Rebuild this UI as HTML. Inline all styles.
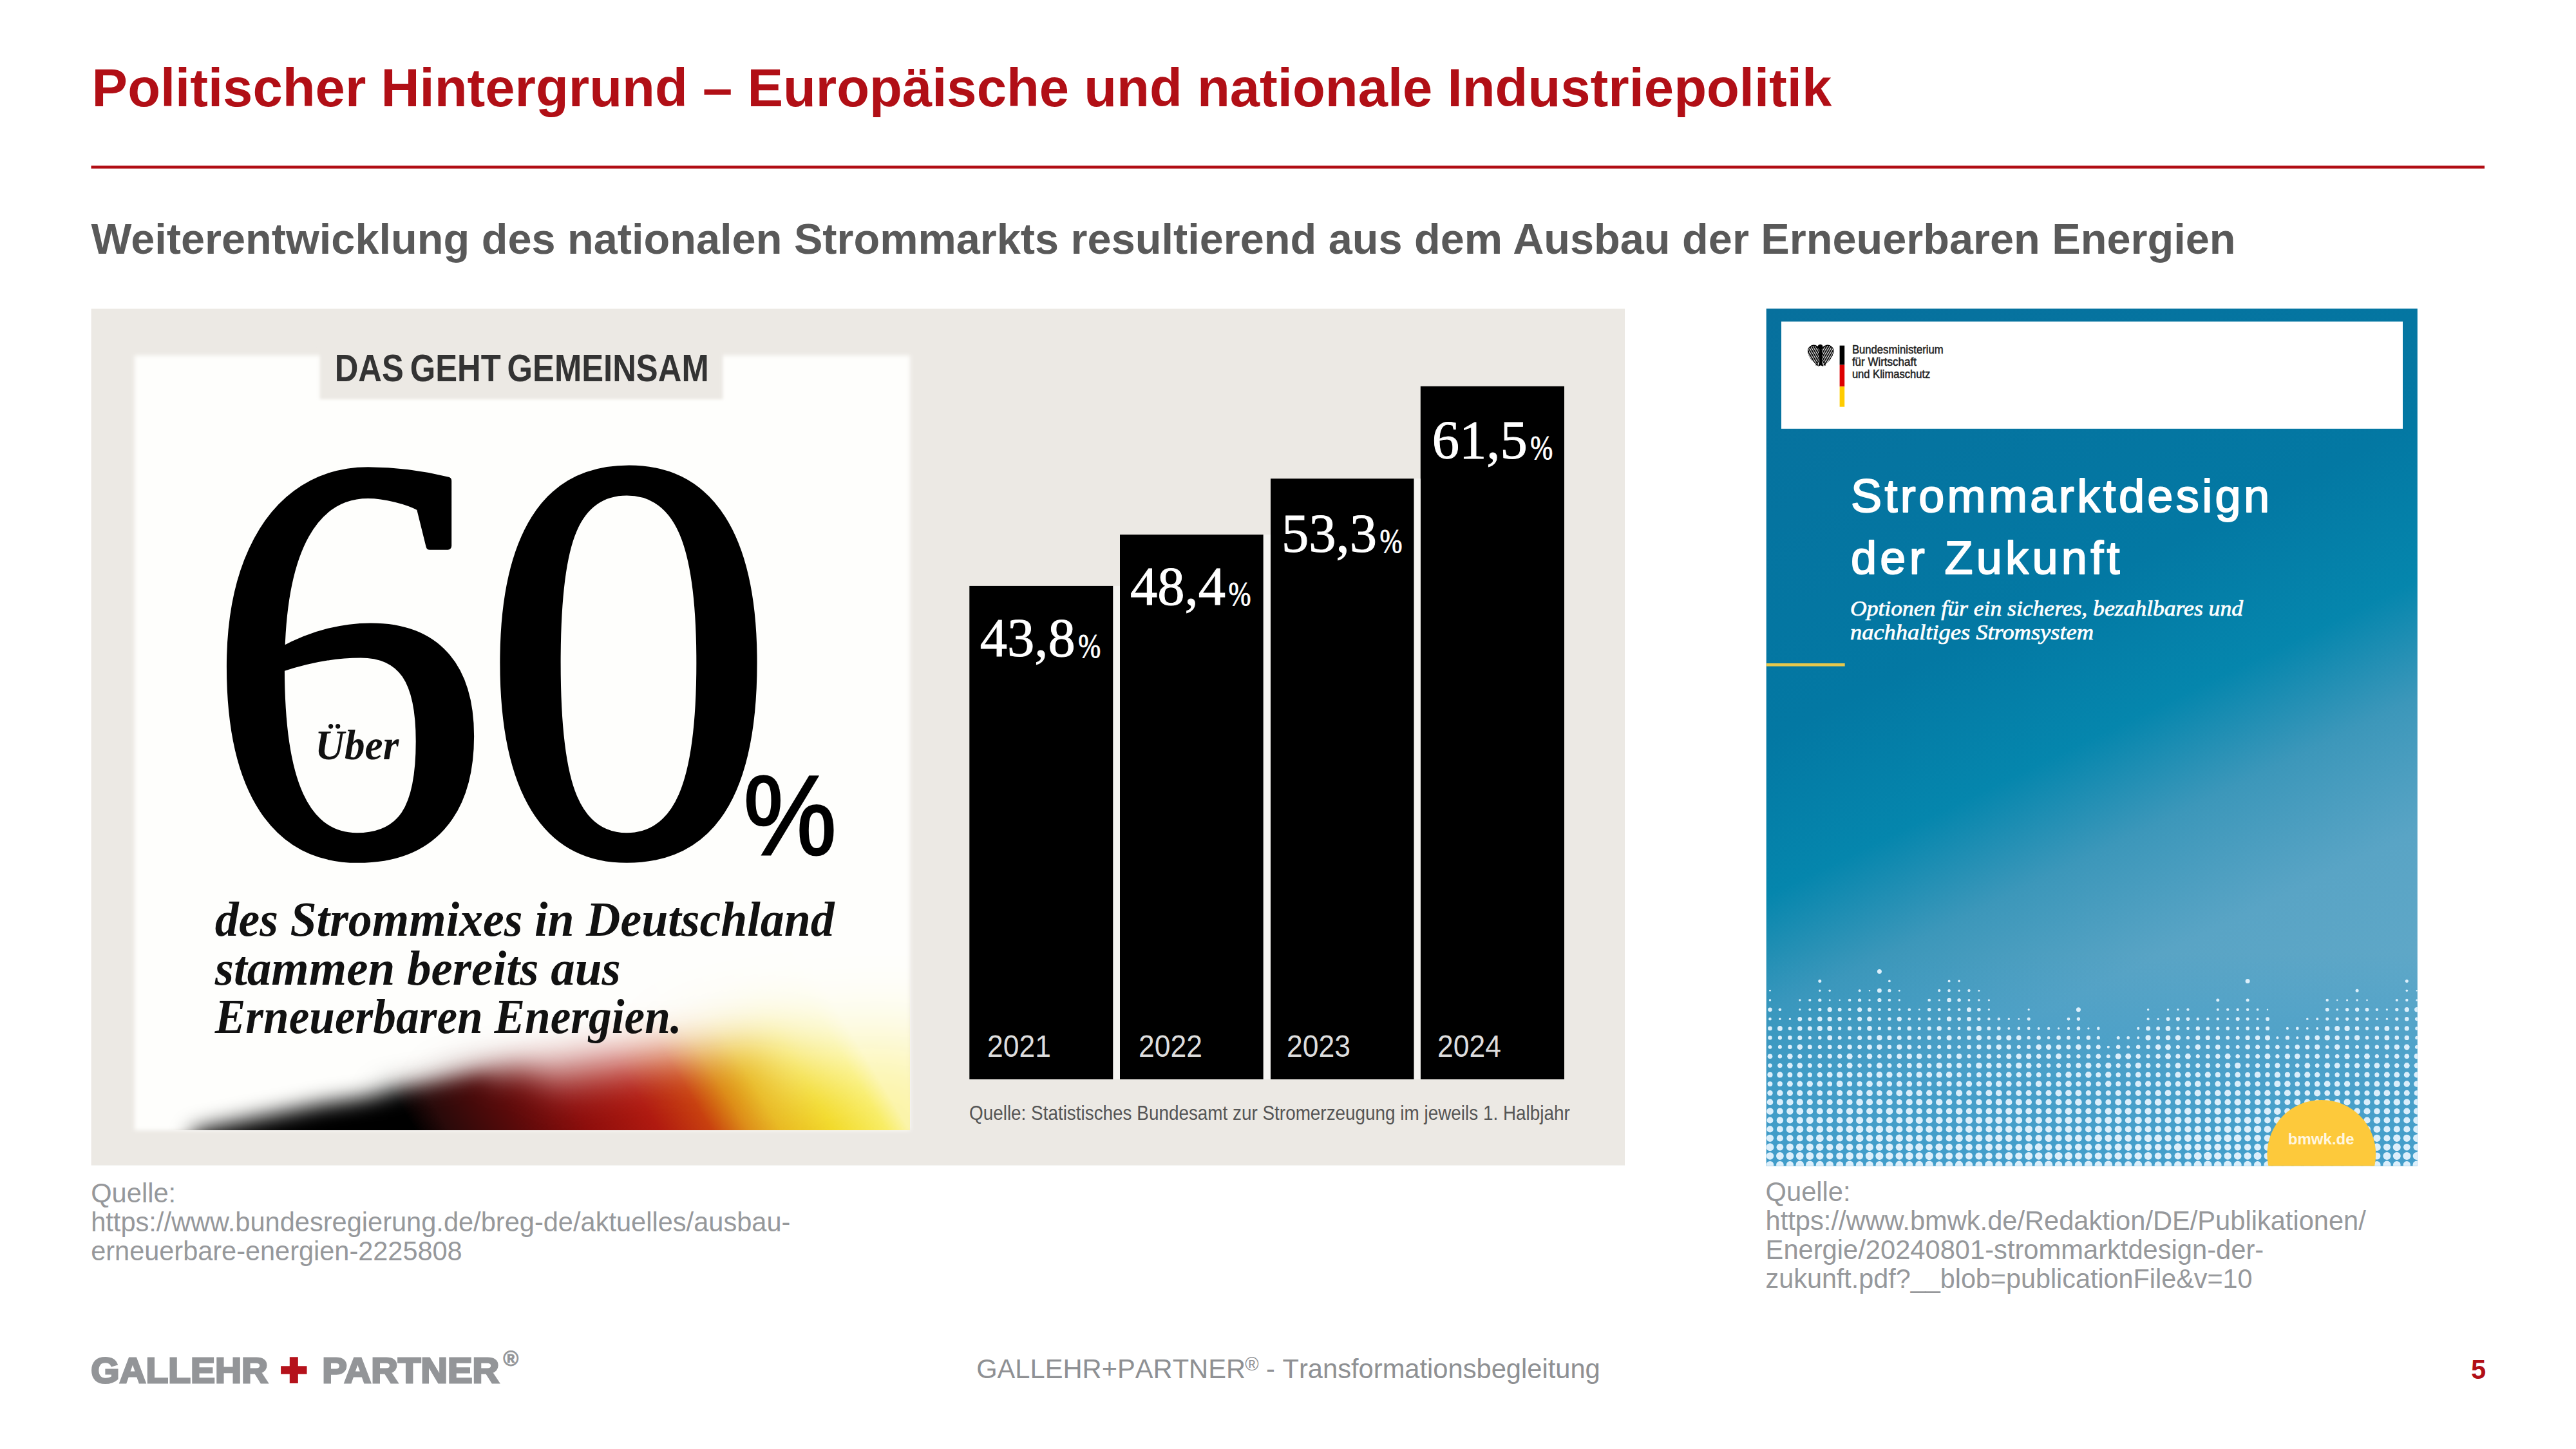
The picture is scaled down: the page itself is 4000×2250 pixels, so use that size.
<!DOCTYPE html>
<html lang="de"><head><meta charset="utf-8"><title>Politischer Hintergrund – Europäische und nationale Industriepolitik</title>
<style>
html,body{margin:0;padding:0;background:#fff;}
body{width:4000px;height:2250px;overflow:hidden;}
svg{display:block;}
text{white-space:pre;}
</style></head><body>
<svg width="4000" height="2250" viewBox="0 0 4000 2250">
<defs>
<filter id="b2" x="-5%" y="-5%" width="110%" height="110%"><feGaussianBlur stdDeviation="2"/></filter>
<filter id="b3" x="-5%" y="-5%" width="110%" height="110%"><feGaussianBlur stdDeviation="3"/></filter>
<filter id="b22" x="-30%" y="-80%" width="160%" height="260%"><feGaussianBlur stdDeviation="16"/></filter>
<filter id="b25" x="-30%" y="-80%" width="160%" height="260%"><feGaussianBlur stdDeviation="26"/></filter>
<filter id="b38" x="-30%" y="-80%" width="160%" height="260%"><feGaussianBlur stdDeviation="36"/></filter>
<filter id="b60" x="-50%" y="-120%" width="200%" height="340%"><feGaussianBlur stdDeviation="65"/></filter>
<filter id="b05" x="-10%" y="-10%" width="120%" height="120%"><feGaussianBlur stdDeviation="0.5"/></filter>
<clipPath id="cpPanel"><rect x="209" y="552" width="1204" height="1203"/></clipPath>
<clipPath id="cpCover"><rect x="2742.7" y="479.3" width="1011.1" height="1331.2"/></clipPath>
<linearGradient id="gFlag" gradientUnits="userSpaceOnUse" x1="300" y1="1755" x2="1118.4" y2="1264">
<stop offset="0" stop-color="#000"/><stop offset="0.31" stop-color="#000"/><stop offset="0.357" stop-color="#2A0A0A"/><stop offset="0.455" stop-color="#5A0A0A"/><stop offset="0.553" stop-color="#8E0E0C"/><stop offset="0.65" stop-color="#B01A10"/><stop offset="0.723" stop-color="#C8400F"/><stop offset="0.773" stop-color="#DC8A14"/><stop offset="0.821" stop-color="#E8B81C"/><stop offset="0.895" stop-color="#F2DA28"/><stop offset="0.968" stop-color="#F8EC60"/><stop offset="1" stop-color="#FBF3A0"/>
</linearGradient>
<mask id="mFlag" maskUnits="userSpaceOnUse" x="100" y="1300" width="1500" height="700"><g fill="#fff">
<path d="M270,1950 L300,1756 L500,1714 L760,1676 L800,1950 Z" filter="url(#b22)"/>
<path d="M600,1950 L600,1702 L820,1668 L1000,1950 Z" filter="url(#b25)"/>
<path d="M700,1950 L700,1690 L1024,1640 L1200,1636 L1200,1950 Z" filter="url(#b38)"/>
<path d="M1090,1950 L1090,1660 L1250,1630 L1500,1625 L1500,1950 Z" filter="url(#b60)"/>
</g></mask>
<linearGradient id="gCover" gradientUnits="userSpaceOnUse" x1="2742" y1="480" x2="3457" y2="1956">
<stop offset="0" stop-color="#07709D"/><stop offset="0.366" stop-color="#0378A3"/><stop offset="0.5" stop-color="#0586AD"/><stop offset="0.6" stop-color="#3C97BA"/><stop offset="0.713" stop-color="#59A4C5"/><stop offset="0.854" stop-color="#60A8C8"/>
</linearGradient>
<linearGradient id="gBot" x1="0" y1="0" x2="0" y2="1"><stop offset="0" stop-color="#2F97CC" stop-opacity="0"/><stop offset="0.6" stop-color="#2F97CC" stop-opacity="0.45"/><stop offset="1" stop-color="#2F97CC" stop-opacity="0.6"/></linearGradient>
</defs>
<rect width="4000" height="2250" fill="#fff"/>
<text x="142.6" y="165.4" font-size="83.33" fill="#B10F16" font-family="'Liberation Sans', Arial, Helvetica, sans-serif" font-weight="bold" textLength="2701.7" lengthAdjust="spacingAndGlyphs" >Politischer Hintergrund – Europäische und nationale Industriepolitik</text>
<rect x="141.5" y="257.3" width="3716.5" height="4.4" fill="#B10D14"/>
<text x="141.5" y="394.1" font-size="66.67" fill="#595959" font-family="'Liberation Sans', Arial, Helvetica, sans-serif" font-weight="bold" >Weiterentwicklung des nationalen Strommarkts resultierend aus dem Ausbau der Erneuerbaren Energien</text>
<g><rect x="141.6" y="479.5" width="2381.4" height="1330.1" fill="#ECE9E4"/>
<rect x="209" y="552" width="1204" height="1203" fill="#FEFEFC" filter="url(#b3)"/>
<rect x="209" y="1380" width="1204" height="375" fill="url(#gFlag)" mask="url(#mFlag)"/>
<rect x="496.5" y="540" width="626" height="80" fill="#ECE9E4" filter="url(#b2)"/>
<text x="519.7" y="592.3" font-size="59" fill="#333333" font-family="'Liberation Sans', Arial, Helvetica, sans-serif" font-weight="bold" textLength="581" lengthAdjust="spacingAndGlyphs" word-spacing="-5">DAS GEHT GEMEINSAM</text>
<g font-size="897" fill="#000" stroke="#000" stroke-width="12" stroke-linejoin="round" font-family="'Liberation Serif', 'Times New Roman', serif"><text x="0" y="0" transform="translate(320.3,1325.1) scale(0.972,1)">6</text><text x="0" y="0" transform="translate(747.7,1325.1) scale(1.018,1)">0</text></g>
<text x="489.3" y="1178.9" font-size="66" fill="#111" font-family="'Liberation Serif', 'Times New Roman', serif" font-weight="bold" font-style="italic" textLength="130" lengthAdjust="spacingAndGlyphs" >Über</text>
<text x="1154.4" y="1327.3" font-size="176" fill="#000" font-family="'Liberation Sans', Arial, Helvetica, sans-serif" textLength="144.5" lengthAdjust="spacingAndGlyphs" stroke="#000" stroke-width="3">%</text>
<text x="333.7" y="1453" font-size="76" fill="#111" font-family="'Liberation Serif', 'Times New Roman', serif" font-weight="bold" font-style="italic" textLength="962" lengthAdjust="spacingAndGlyphs" >des Strommixes in Deutschland</text>
<text x="333.7" y="1529.3" font-size="76" fill="#111" font-family="'Liberation Serif', 'Times New Roman', serif" font-weight="bold" font-style="italic" textLength="630" lengthAdjust="spacingAndGlyphs" >stammen bereits aus</text>
<text x="333.7" y="1604.3" font-size="76" fill="#111" font-family="'Liberation Serif', 'Times New Roman', serif" font-weight="bold" font-style="italic" textLength="725" lengthAdjust="spacingAndGlyphs" >Erneuerbaren Energien.</text>
<rect x="1505.3" y="909.9" width="223.2" height="766.1" fill="#000"/>
<rect x="1739" y="830.2" width="222.8" height="845.8" fill="#000"/>
<rect x="1973" y="743.2" width="222.7" height="932.8" fill="#000"/>
<rect x="2205.8" y="599.8" width="223.2" height="1076.2" fill="#000"/>
<rect x="1728.5" y="909.9" width="10.5" height="766.1" fill="#F5F4F1"/>
<rect x="1961.8" y="830.2" width="11.2" height="845.8" fill="#F5F4F1"/>
<rect x="2195.7" y="743.2" width="10.1" height="932.8" fill="#F5F4F1"/>
<text x="1521.7" y="1019.3" font-size="85" fill="#fff" font-family="'Liberation Serif', 'Times New Roman', serif" textLength="148" lengthAdjust="spacingAndGlyphs" stroke="#fff" stroke-width="1">43,8</text>
<text x="1674.2" y="1020.5" font-size="52" fill="#fff" font-family="'Liberation Serif', 'Times New Roman', serif" textLength="35" lengthAdjust="spacingAndGlyphs" stroke="#fff" stroke-width="0.8">%</text>
<text x="1755" y="939.2" font-size="85" fill="#fff" font-family="'Liberation Serif', 'Times New Roman', serif" textLength="148" lengthAdjust="spacingAndGlyphs" stroke="#fff" stroke-width="1">48,4</text>
<text x="1907.5" y="940.4" font-size="52" fill="#fff" font-family="'Liberation Serif', 'Times New Roman', serif" textLength="35" lengthAdjust="spacingAndGlyphs" stroke="#fff" stroke-width="0.8">%</text>
<text x="1990" y="857.1" font-size="85" fill="#fff" font-family="'Liberation Serif', 'Times New Roman', serif" textLength="148" lengthAdjust="spacingAndGlyphs" stroke="#fff" stroke-width="1">53,3</text>
<text x="2142.5" y="858.3" font-size="52" fill="#fff" font-family="'Liberation Serif', 'Times New Roman', serif" textLength="35" lengthAdjust="spacingAndGlyphs" stroke="#fff" stroke-width="0.8">%</text>
<text x="2223.7" y="712.1" font-size="85" fill="#fff" font-family="'Liberation Serif', 'Times New Roman', serif" textLength="148" lengthAdjust="spacingAndGlyphs" stroke="#fff" stroke-width="1">61,5</text>
<text x="2376.2" y="713.3" font-size="52" fill="#fff" font-family="'Liberation Serif', 'Times New Roman', serif" textLength="35" lengthAdjust="spacingAndGlyphs" stroke="#fff" stroke-width="0.8">%</text>
<text x="1532.9" y="1641" font-size="47.5" fill="#DDDDDD" font-family="'Liberation Sans', Arial, Helvetica, sans-serif" textLength="99" lengthAdjust="spacingAndGlyphs" >2021</text>
<text x="1768" y="1641" font-size="47.5" fill="#DDDDDD" font-family="'Liberation Sans', Arial, Helvetica, sans-serif" textLength="99" lengthAdjust="spacingAndGlyphs" >2022</text>
<text x="1998" y="1641" font-size="47.5" fill="#DDDDDD" font-family="'Liberation Sans', Arial, Helvetica, sans-serif" textLength="99" lengthAdjust="spacingAndGlyphs" >2023</text>
<text x="2231.9" y="1641" font-size="47.5" fill="#DDDDDD" font-family="'Liberation Sans', Arial, Helvetica, sans-serif" textLength="99" lengthAdjust="spacingAndGlyphs" >2024</text>
<text x="1505" y="1738.6" font-size="30.5" fill="#555" font-family="'Liberation Sans', Arial, Helvetica, sans-serif" textLength="932.7" lengthAdjust="spacingAndGlyphs" >Quelle: Statistisches Bundesamt zur Stromerzeugung im jeweils 1. Halbjahr</text></g>
<g><rect x="2742.7" y="479.3" width="1011.1" height="1331.2" fill="url(#gCover)"/>
<rect x="2766" y="499.4" width="965" height="166.4" fill="#fff"/>
<g transform="translate(2807.7,534.6)"><defs><clipPath id="wl"><polygon points="17.3,7.0 15.0,3.0 10.5,0.8 5.5,1.6 1.5,5.5 -0.1,11.5 0.9,17.5 4.0,23.0 8.0,27.5 12.0,31.0 15.5,28.0 17.1,20.0"/></clipPath><clipPath id="wr"><polygon points="21.7,7.0 24.0,3.0 28.5,0.8 33.5,1.6 37.5,5.5 39.1,11.5 38.1,17.5 35.0,23.0 31.0,27.5 27.0,31.0 23.5,28.0 21.9,20.0"/></clipPath></defs><g fill="none" stroke="#000" stroke-linecap="round" stroke-linejoin="round" filter="url(#b05)"><g clip-path="url(#wl)"><path d="M55.5,2.8 L30.3,57.2 M53.2,1.7 L28.0,56.1 M50.9,0.6 L25.7,55.1 M48.5,-0.4 L23.3,54.0 M46.2,-1.5 L21.0,52.9 M43.9,-2.6 L18.7,51.8 M41.6,-3.6 L16.4,50.8 M39.3,-4.7 L14.1,49.7 M37.0,-5.8 L11.8,48.6 M34.7,-6.9 L9.5,47.6 M32.4,-7.9 L7.2,46.5 M30.0,-9.0 L4.8,45.4 M27.7,-10.1 L2.5,44.4 M25.4,-11.1 L0.2,43.3 M23.1,-12.2 L-2.1,42.2 M20.8,-13.3 L-4.4,41.1 M18.5,-14.4 L-6.7,40.1 M16.2,-15.4 L-9.0,39.0 M13.8,-16.5 L-11.4,37.9 M11.5,-17.6 L-13.7,36.9 M9.2,-18.6 L-16.0,35.8 M6.9,-19.7 L-18.3,34.7 M4.6,-20.8 L-20.6,33.6 M2.3,-21.8 L-22.9,32.6 M-0.0,-22.9 L-25.2,31.5 M-2.3,-24.0 L-27.5,30.4 M-4.7,-25.1 L-29.9,29.4 M-7.0,-26.1 L-32.2,28.3 M-9.3,-27.2 L-34.5,27.2 " stroke-width="1.6"/></g><path d="M17.3,7 C14.5,2.4 8.5,-0.4 3.5,3.4 S-0.3,10 0.5,14.5" stroke-width="1.2"/><path d="M17.3,24 L14.1,29.8 M14.1,29.8 l-1.8,2.4 M14.1,29.8 l0.3,3" stroke-width="1.5"/><g clip-path="url(#wr)"><path d="M-16.5,2.8 L8.7,57.2 M-14.2,1.7 L11.0,56.1 M-11.9,0.6 L13.3,55.1 M-9.5,-0.4 L15.7,54.0 M-7.2,-1.5 L18.0,52.9 M-4.9,-2.6 L20.3,51.8 M-2.6,-3.6 L22.6,50.8 M-0.3,-4.7 L24.9,49.7 M2.0,-5.8 L27.2,48.6 M4.3,-6.9 L29.5,47.6 M6.6,-7.9 L31.8,46.5 M9.0,-9.0 L34.2,45.4 M11.3,-10.1 L36.5,44.4 M13.6,-11.1 L38.8,43.3 M15.9,-12.2 L41.1,42.2 M18.2,-13.3 L43.4,41.1 M20.5,-14.4 L45.7,40.1 M22.8,-15.4 L48.0,39.0 M25.2,-16.5 L50.4,37.9 M27.5,-17.6 L52.7,36.9 M29.8,-18.6 L55.0,35.8 M32.1,-19.7 L57.3,34.7 M34.4,-20.8 L59.6,33.6 M36.7,-21.8 L61.9,32.6 M39.0,-22.9 L64.2,31.5 M41.3,-24.0 L66.5,30.4 M43.7,-25.1 L68.9,29.4 M46.0,-26.1 L71.2,28.3 M48.3,-27.2 L73.5,27.2 " stroke-width="1.6"/></g><path d="M21.7,7 C24.5,2.4 30.5,-0.4 35.5,3.4 S39.3,10 38.5,14.5" stroke-width="1.2"/><path d="M21.7,24 L24.9,29.8 M24.9,29.8 l1.8,2.4 M24.9,29.8 l-0.3,3" stroke-width="1.5"/><path d="M19.5,5 C22.9,9 22.7,20 21.2,25.5 L23.6,34.4 L19.5,32.6 L15.4,34.4 L17.8,25.5 C16.3,20 16.1,9 19.5,5 Z" fill="#000" stroke="none"/><path d="M21.6,1.2 C18.8,-1 15.2,0.6 14.6,3.8 L12.2,5.6 L15.4,6.1 C16.4,8.2 18.6,8.8 20.8,7.8 C23.2,6.4 23.5,3 21.6,1.2 Z" fill="#000" stroke="none"/></g></g>
<rect x="2856.6" y="536.6" width="7.6" height="30" fill="#000"/>
<rect x="2856.6" y="566.6" width="7.6" height="33.7" fill="#D00"/>
<rect x="2856.6" y="600.3" width="7.6" height="31.4" fill="#FC0"/>
<text x="2875.9" y="548.8" font-size="18" fill="#222" font-family="'Liberation Sans', Arial, Helvetica, sans-serif" textLength="141.7" lengthAdjust="spacingAndGlyphs" stroke="#222" stroke-width="0.5">Bundesministerium</text>
<text x="2875.9" y="568.1" font-size="18" fill="#222" font-family="'Liberation Sans', Arial, Helvetica, sans-serif" textLength="100" lengthAdjust="spacingAndGlyphs" stroke="#222" stroke-width="0.5">für Wirtschaft</text>
<text x="2875.9" y="587.1" font-size="18" fill="#222" font-family="'Liberation Sans', Arial, Helvetica, sans-serif" textLength="121.5" lengthAdjust="spacingAndGlyphs" stroke="#222" stroke-width="0.5">und Klimaschutz</text>
<text x="2874" y="794.8" font-size="72" fill="#fff" font-family="'Liberation Sans', Arial, Helvetica, sans-serif" textLength="650" lengthAdjust="spacing" stroke="#fff" stroke-width="2" stroke-linejoin="round">Strommarktdesign</text>
<text x="2874" y="890.6" font-size="72" fill="#fff" font-family="'Liberation Sans', Arial, Helvetica, sans-serif" textLength="417.5" lengthAdjust="spacing" stroke="#fff" stroke-width="2" stroke-linejoin="round">der Zukunft</text>
<text x="2873" y="956.1" font-size="33" fill="#fff" font-family="'Liberation Serif', 'Times New Roman', serif" font-style="italic" textLength="610" lengthAdjust="spacingAndGlyphs" stroke="#fff" stroke-width="0.7">Optionen für ein sicheres, bezahlbares und</text>
<text x="2873" y="993.4" font-size="33" fill="#fff" font-family="'Liberation Serif', 'Times New Roman', serif" font-style="italic" textLength="378" lengthAdjust="spacingAndGlyphs" stroke="#fff" stroke-width="0.7">nachhaltiges Stromsystem</text>
<rect x="2742.7" y="1030" width="122" height="4.6" fill="#E6C84C"/>
<rect x="2742.7" y="1480" width="1011.1" height="330.5" fill="url(#gBot)"/>
<g clip-path="url(#cpCover)" fill="#DCEFFB"><circle cx="2748.5" cy="1538.2" r="1.4"/><circle cx="2748.5" cy="1553.0" r="1.7"/><circle cx="2748.5" cy="1567.7" r="3.2"/><circle cx="2748.5" cy="1582.3" r="2.3"/><circle cx="2748.5" cy="1596.9" r="3.3"/><circle cx="2748.5" cy="1611.4" r="3.2"/><circle cx="2748.5" cy="1625.8" r="2.9"/><circle cx="2748.5" cy="1640.2" r="3.8"/><circle cx="2748.5" cy="1654.6" r="3.3"/><circle cx="2748.5" cy="1668.9" r="4.1"/><circle cx="2748.5" cy="1683.1" r="3.9"/><circle cx="2748.5" cy="1697.3" r="4.2"/><circle cx="2748.5" cy="1711.4" r="4.8"/><circle cx="2748.5" cy="1725.5" r="5.3"/><circle cx="2748.5" cy="1739.5" r="4.9"/><circle cx="2748.5" cy="1753.4" r="5.1"/><circle cx="2748.5" cy="1767.3" r="5.6"/><circle cx="2748.5" cy="1781.2" r="6.0"/><circle cx="2748.5" cy="1795.0" r="5.8"/><circle cx="2748.5" cy="1808.7" r="5.8"/><circle cx="2763.9" cy="1567.7" r="2.3"/><circle cx="2763.9" cy="1582.3" r="1.8"/><circle cx="2763.9" cy="1596.9" r="3.9"/><circle cx="2763.9" cy="1611.4" r="3.1"/><circle cx="2763.9" cy="1625.8" r="3.0"/><circle cx="2763.9" cy="1640.2" r="3.2"/><circle cx="2763.9" cy="1654.6" r="3.7"/><circle cx="2763.9" cy="1668.9" r="4.6"/><circle cx="2763.9" cy="1683.1" r="4.0"/><circle cx="2763.9" cy="1697.3" r="4.7"/><circle cx="2763.9" cy="1711.4" r="5.0"/><circle cx="2763.9" cy="1725.5" r="4.9"/><circle cx="2763.9" cy="1739.5" r="5.2"/><circle cx="2763.9" cy="1753.4" r="5.0"/><circle cx="2763.9" cy="1767.3" r="5.1"/><circle cx="2763.9" cy="1781.2" r="5.4"/><circle cx="2763.9" cy="1795.0" r="5.9"/><circle cx="2763.9" cy="1808.7" r="5.8"/><circle cx="2779.4" cy="1582.3" r="1.7"/><circle cx="2779.4" cy="1596.9" r="2.7"/><circle cx="2779.4" cy="1611.4" r="3.3"/><circle cx="2779.4" cy="1625.8" r="3.3"/><circle cx="2779.4" cy="1640.2" r="4.2"/><circle cx="2779.4" cy="1654.6" r="4.3"/><circle cx="2779.4" cy="1668.9" r="3.9"/><circle cx="2779.4" cy="1683.1" r="4.5"/><circle cx="2779.4" cy="1697.3" r="4.6"/><circle cx="2779.4" cy="1711.4" r="5.2"/><circle cx="2779.4" cy="1725.5" r="5.2"/><circle cx="2779.4" cy="1739.5" r="5.0"/><circle cx="2779.4" cy="1753.4" r="5.7"/><circle cx="2779.4" cy="1767.3" r="5.2"/><circle cx="2779.4" cy="1781.2" r="5.6"/><circle cx="2779.4" cy="1795.0" r="6.0"/><circle cx="2779.4" cy="1808.7" r="5.6"/><circle cx="2794.8" cy="1553.0" r="1.7"/><circle cx="2794.8" cy="1567.7" r="1.6"/><circle cx="2794.8" cy="1582.3" r="3.4"/><circle cx="2794.8" cy="1596.9" r="3.7"/><circle cx="2794.8" cy="1611.4" r="3.5"/><circle cx="2794.8" cy="1625.8" r="4.2"/><circle cx="2794.8" cy="1640.2" r="3.5"/><circle cx="2794.8" cy="1654.6" r="4.3"/><circle cx="2794.8" cy="1668.9" r="4.3"/><circle cx="2794.8" cy="1683.1" r="4.5"/><circle cx="2794.8" cy="1697.3" r="4.6"/><circle cx="2794.8" cy="1711.4" r="5.1"/><circle cx="2794.8" cy="1725.5" r="5.4"/><circle cx="2794.8" cy="1739.5" r="5.2"/><circle cx="2794.8" cy="1753.4" r="5.5"/><circle cx="2794.8" cy="1767.3" r="5.1"/><circle cx="2794.8" cy="1781.2" r="5.8"/><circle cx="2794.8" cy="1795.0" r="5.9"/><circle cx="2794.8" cy="1808.7" r="6.3"/><circle cx="2810.3" cy="1553.0" r="2.1"/><circle cx="2810.3" cy="1567.7" r="2.0"/><circle cx="2810.3" cy="1582.3" r="2.9"/><circle cx="2810.3" cy="1596.9" r="3.5"/><circle cx="2810.3" cy="1611.4" r="2.6"/><circle cx="2810.3" cy="1625.8" r="3.5"/><circle cx="2810.3" cy="1640.2" r="3.3"/><circle cx="2810.3" cy="1654.6" r="3.5"/><circle cx="2810.3" cy="1668.9" r="3.6"/><circle cx="2810.3" cy="1683.1" r="4.7"/><circle cx="2810.3" cy="1697.3" r="4.2"/><circle cx="2810.3" cy="1711.4" r="4.6"/><circle cx="2810.3" cy="1725.5" r="5.0"/><circle cx="2810.3" cy="1739.5" r="5.5"/><circle cx="2810.3" cy="1753.4" r="5.0"/><circle cx="2810.3" cy="1767.3" r="5.4"/><circle cx="2810.3" cy="1781.2" r="5.7"/><circle cx="2810.3" cy="1795.0" r="6.1"/><circle cx="2810.3" cy="1808.7" r="6.2"/><circle cx="2825.8" cy="1523.4" r="2.5"/><circle cx="2825.8" cy="1538.2" r="1.7"/><circle cx="2825.8" cy="1553.0" r="2.6"/><circle cx="2825.8" cy="1567.7" r="2.6"/><circle cx="2825.8" cy="1582.3" r="3.7"/><circle cx="2825.8" cy="1596.9" r="4.0"/><circle cx="2825.8" cy="1611.4" r="2.8"/><circle cx="2825.8" cy="1625.8" r="3.1"/><circle cx="2825.8" cy="1640.2" r="3.4"/><circle cx="2825.8" cy="1654.6" r="3.6"/><circle cx="2825.8" cy="1668.9" r="4.2"/><circle cx="2825.8" cy="1683.1" r="4.5"/><circle cx="2825.8" cy="1697.3" r="4.4"/><circle cx="2825.8" cy="1711.4" r="4.3"/><circle cx="2825.8" cy="1725.5" r="5.0"/><circle cx="2825.8" cy="1739.5" r="5.1"/><circle cx="2825.8" cy="1753.4" r="5.4"/><circle cx="2825.8" cy="1767.3" r="5.9"/><circle cx="2825.8" cy="1781.2" r="5.8"/><circle cx="2825.8" cy="1795.0" r="5.8"/><circle cx="2825.8" cy="1808.7" r="6.0"/><circle cx="2841.2" cy="1538.2" r="1.8"/><circle cx="2841.2" cy="1553.0" r="1.5"/><circle cx="2841.2" cy="1567.7" r="3.6"/><circle cx="2841.2" cy="1582.3" r="3.6"/><circle cx="2841.2" cy="1596.9" r="3.9"/><circle cx="2841.2" cy="1611.4" r="3.9"/><circle cx="2841.2" cy="1625.8" r="3.4"/><circle cx="2841.2" cy="1640.2" r="3.6"/><circle cx="2841.2" cy="1654.6" r="3.4"/><circle cx="2841.2" cy="1668.9" r="4.4"/><circle cx="2841.2" cy="1683.1" r="3.9"/><circle cx="2841.2" cy="1697.3" r="4.1"/><circle cx="2841.2" cy="1711.4" r="4.5"/><circle cx="2841.2" cy="1725.5" r="4.8"/><circle cx="2841.2" cy="1739.5" r="5.1"/><circle cx="2841.2" cy="1753.4" r="5.0"/><circle cx="2841.2" cy="1767.3" r="5.1"/><circle cx="2841.2" cy="1781.2" r="5.3"/><circle cx="2841.2" cy="1795.0" r="5.4"/><circle cx="2841.2" cy="1808.7" r="5.8"/><circle cx="2856.7" cy="1553.0" r="1.2"/><circle cx="2856.7" cy="1567.7" r="2.9"/><circle cx="2856.7" cy="1582.3" r="3.3"/><circle cx="2856.7" cy="1596.9" r="2.6"/><circle cx="2856.7" cy="1611.4" r="3.0"/><circle cx="2856.7" cy="1625.8" r="3.4"/><circle cx="2856.7" cy="1640.2" r="3.6"/><circle cx="2856.7" cy="1654.6" r="3.5"/><circle cx="2856.7" cy="1668.9" r="4.7"/><circle cx="2856.7" cy="1683.1" r="5.0"/><circle cx="2856.7" cy="1697.3" r="4.6"/><circle cx="2856.7" cy="1711.4" r="4.8"/><circle cx="2856.7" cy="1725.5" r="4.7"/><circle cx="2856.7" cy="1739.5" r="4.9"/><circle cx="2856.7" cy="1753.4" r="5.2"/><circle cx="2856.7" cy="1767.3" r="5.3"/><circle cx="2856.7" cy="1781.2" r="5.9"/><circle cx="2856.7" cy="1795.0" r="5.5"/><circle cx="2856.7" cy="1808.7" r="5.5"/><circle cx="2872.1" cy="1553.0" r="2.2"/><circle cx="2872.1" cy="1567.7" r="2.4"/><circle cx="2872.1" cy="1582.3" r="2.4"/><circle cx="2872.1" cy="1596.9" r="3.3"/><circle cx="2872.1" cy="1611.4" r="2.6"/><circle cx="2872.1" cy="1625.8" r="3.7"/><circle cx="2872.1" cy="1640.2" r="4.5"/><circle cx="2872.1" cy="1654.6" r="4.5"/><circle cx="2872.1" cy="1668.9" r="4.5"/><circle cx="2872.1" cy="1683.1" r="4.1"/><circle cx="2872.1" cy="1697.3" r="4.5"/><circle cx="2872.1" cy="1711.4" r="4.5"/><circle cx="2872.1" cy="1725.5" r="5.3"/><circle cx="2872.1" cy="1739.5" r="5.2"/><circle cx="2872.1" cy="1753.4" r="5.6"/><circle cx="2872.1" cy="1767.3" r="5.3"/><circle cx="2872.1" cy="1781.2" r="5.4"/><circle cx="2872.1" cy="1795.0" r="6.0"/><circle cx="2872.1" cy="1808.7" r="6.3"/><circle cx="2887.6" cy="1538.2" r="2.0"/><circle cx="2887.6" cy="1553.0" r="2.6"/><circle cx="2887.6" cy="1567.7" r="3.5"/><circle cx="2887.6" cy="1582.3" r="3.5"/><circle cx="2887.6" cy="1596.9" r="2.8"/><circle cx="2887.6" cy="1611.4" r="3.5"/><circle cx="2887.6" cy="1625.8" r="3.4"/><circle cx="2887.6" cy="1640.2" r="3.1"/><circle cx="2887.6" cy="1654.6" r="3.3"/><circle cx="2887.6" cy="1668.9" r="3.9"/><circle cx="2887.6" cy="1683.1" r="4.1"/><circle cx="2887.6" cy="1697.3" r="4.8"/><circle cx="2887.6" cy="1711.4" r="5.3"/><circle cx="2887.6" cy="1725.5" r="5.0"/><circle cx="2887.6" cy="1739.5" r="5.6"/><circle cx="2887.6" cy="1753.4" r="5.7"/><circle cx="2887.6" cy="1767.3" r="5.9"/><circle cx="2887.6" cy="1781.2" r="5.5"/><circle cx="2887.6" cy="1795.0" r="5.5"/><circle cx="2887.6" cy="1808.7" r="5.7"/><circle cx="2903.0" cy="1538.2" r="1.2"/><circle cx="2903.0" cy="1553.0" r="1.7"/><circle cx="2903.0" cy="1567.7" r="3.1"/><circle cx="2903.0" cy="1582.3" r="3.8"/><circle cx="2903.0" cy="1596.9" r="3.8"/><circle cx="2903.0" cy="1611.4" r="3.4"/><circle cx="2903.0" cy="1625.8" r="3.9"/><circle cx="2903.0" cy="1640.2" r="4.2"/><circle cx="2903.0" cy="1654.6" r="3.4"/><circle cx="2903.0" cy="1668.9" r="4.4"/><circle cx="2903.0" cy="1683.1" r="4.9"/><circle cx="2903.0" cy="1697.3" r="4.9"/><circle cx="2903.0" cy="1711.4" r="5.1"/><circle cx="2903.0" cy="1725.5" r="5.0"/><circle cx="2903.0" cy="1739.5" r="5.0"/><circle cx="2903.0" cy="1753.4" r="5.6"/><circle cx="2903.0" cy="1767.3" r="5.3"/><circle cx="2903.0" cy="1781.2" r="5.9"/><circle cx="2903.0" cy="1795.0" r="6.2"/><circle cx="2903.0" cy="1808.7" r="5.8"/><circle cx="2918.4" cy="1508.6" r="3.5"/><circle cx="2918.4" cy="1538.2" r="3.4"/><circle cx="2918.4" cy="1553.0" r="3.1"/><circle cx="2918.4" cy="1567.7" r="2.3"/><circle cx="2918.4" cy="1582.3" r="2.4"/><circle cx="2918.4" cy="1596.9" r="2.6"/><circle cx="2918.4" cy="1611.4" r="4.1"/><circle cx="2918.4" cy="1625.8" r="4.1"/><circle cx="2918.4" cy="1640.2" r="3.3"/><circle cx="2918.4" cy="1654.6" r="4.5"/><circle cx="2918.4" cy="1668.9" r="4.8"/><circle cx="2918.4" cy="1683.1" r="4.6"/><circle cx="2918.4" cy="1697.3" r="4.4"/><circle cx="2918.4" cy="1711.4" r="4.9"/><circle cx="2918.4" cy="1725.5" r="4.7"/><circle cx="2918.4" cy="1739.5" r="4.8"/><circle cx="2918.4" cy="1753.4" r="5.7"/><circle cx="2918.4" cy="1767.3" r="5.6"/><circle cx="2918.4" cy="1781.2" r="5.6"/><circle cx="2918.4" cy="1795.0" r="6.1"/><circle cx="2918.4" cy="1808.7" r="5.8"/><circle cx="2933.9" cy="1523.4" r="1.9"/><circle cx="2933.9" cy="1538.2" r="2.5"/><circle cx="2933.9" cy="1553.0" r="2.2"/><circle cx="2933.9" cy="1567.7" r="2.4"/><circle cx="2933.9" cy="1582.3" r="2.7"/><circle cx="2933.9" cy="1596.9" r="2.8"/><circle cx="2933.9" cy="1611.4" r="3.6"/><circle cx="2933.9" cy="1625.8" r="3.2"/><circle cx="2933.9" cy="1640.2" r="3.7"/><circle cx="2933.9" cy="1654.6" r="3.5"/><circle cx="2933.9" cy="1668.9" r="4.7"/><circle cx="2933.9" cy="1683.1" r="4.2"/><circle cx="2933.9" cy="1697.3" r="4.6"/><circle cx="2933.9" cy="1711.4" r="4.9"/><circle cx="2933.9" cy="1725.5" r="5.4"/><circle cx="2933.9" cy="1739.5" r="5.1"/><circle cx="2933.9" cy="1753.4" r="5.7"/><circle cx="2933.9" cy="1767.3" r="5.5"/><circle cx="2933.9" cy="1781.2" r="5.7"/><circle cx="2933.9" cy="1795.0" r="5.8"/><circle cx="2933.9" cy="1808.7" r="5.5"/><circle cx="2949.3" cy="1538.2" r="1.5"/><circle cx="2949.3" cy="1553.0" r="1.7"/><circle cx="2949.3" cy="1567.7" r="2.0"/><circle cx="2949.3" cy="1582.3" r="3.6"/><circle cx="2949.3" cy="1596.9" r="2.7"/><circle cx="2949.3" cy="1611.4" r="3.4"/><circle cx="2949.3" cy="1625.8" r="4.0"/><circle cx="2949.3" cy="1640.2" r="3.9"/><circle cx="2949.3" cy="1654.6" r="3.7"/><circle cx="2949.3" cy="1668.9" r="4.2"/><circle cx="2949.3" cy="1683.1" r="4.5"/><circle cx="2949.3" cy="1697.3" r="4.9"/><circle cx="2949.3" cy="1711.4" r="4.4"/><circle cx="2949.3" cy="1725.5" r="5.1"/><circle cx="2949.3" cy="1739.5" r="5.0"/><circle cx="2949.3" cy="1753.4" r="5.2"/><circle cx="2949.3" cy="1767.3" r="5.7"/><circle cx="2949.3" cy="1781.2" r="5.6"/><circle cx="2949.3" cy="1795.0" r="5.8"/><circle cx="2949.3" cy="1808.7" r="6.1"/><circle cx="2964.8" cy="1567.7" r="2.3"/><circle cx="2964.8" cy="1582.3" r="2.4"/><circle cx="2964.8" cy="1596.9" r="3.4"/><circle cx="2964.8" cy="1611.4" r="3.4"/><circle cx="2964.8" cy="1625.8" r="3.6"/><circle cx="2964.8" cy="1640.2" r="4.1"/><circle cx="2964.8" cy="1654.6" r="3.9"/><circle cx="2964.8" cy="1668.9" r="4.2"/><circle cx="2964.8" cy="1683.1" r="4.4"/><circle cx="2964.8" cy="1697.3" r="5.1"/><circle cx="2964.8" cy="1711.4" r="5.0"/><circle cx="2964.8" cy="1725.5" r="5.3"/><circle cx="2964.8" cy="1739.5" r="5.6"/><circle cx="2964.8" cy="1753.4" r="5.2"/><circle cx="2964.8" cy="1767.3" r="5.5"/><circle cx="2964.8" cy="1781.2" r="6.0"/><circle cx="2964.8" cy="1795.0" r="6.1"/><circle cx="2964.8" cy="1808.7" r="5.6"/><circle cx="2980.2" cy="1567.7" r="1.4"/><circle cx="2980.2" cy="1582.3" r="2.4"/><circle cx="2980.2" cy="1596.9" r="2.5"/><circle cx="2980.2" cy="1611.4" r="3.0"/><circle cx="2980.2" cy="1625.8" r="2.9"/><circle cx="2980.2" cy="1640.2" r="4.1"/><circle cx="2980.2" cy="1654.6" r="4.4"/><circle cx="2980.2" cy="1668.9" r="4.7"/><circle cx="2980.2" cy="1683.1" r="4.0"/><circle cx="2980.2" cy="1697.3" r="4.8"/><circle cx="2980.2" cy="1711.4" r="5.0"/><circle cx="2980.2" cy="1725.5" r="4.7"/><circle cx="2980.2" cy="1739.5" r="5.5"/><circle cx="2980.2" cy="1753.4" r="5.7"/><circle cx="2980.2" cy="1767.3" r="5.3"/><circle cx="2980.2" cy="1781.2" r="6.0"/><circle cx="2980.2" cy="1795.0" r="5.7"/><circle cx="2980.2" cy="1808.7" r="5.9"/><circle cx="2995.7" cy="1553.0" r="2.3"/><circle cx="2995.7" cy="1567.7" r="2.8"/><circle cx="2995.7" cy="1582.3" r="2.5"/><circle cx="2995.7" cy="1596.9" r="3.1"/><circle cx="2995.7" cy="1611.4" r="3.4"/><circle cx="2995.7" cy="1625.8" r="3.4"/><circle cx="2995.7" cy="1640.2" r="3.3"/><circle cx="2995.7" cy="1654.6" r="3.7"/><circle cx="2995.7" cy="1668.9" r="4.5"/><circle cx="2995.7" cy="1683.1" r="3.8"/><circle cx="2995.7" cy="1697.3" r="4.7"/><circle cx="2995.7" cy="1711.4" r="4.8"/><circle cx="2995.7" cy="1725.5" r="4.6"/><circle cx="2995.7" cy="1739.5" r="5.1"/><circle cx="2995.7" cy="1753.4" r="5.4"/><circle cx="2995.7" cy="1767.3" r="5.5"/><circle cx="2995.7" cy="1781.2" r="5.3"/><circle cx="2995.7" cy="1795.0" r="6.2"/><circle cx="2995.7" cy="1808.7" r="6.2"/><circle cx="3011.2" cy="1538.2" r="2.1"/><circle cx="3011.2" cy="1553.0" r="1.6"/><circle cx="3011.2" cy="1567.7" r="2.5"/><circle cx="3011.2" cy="1582.3" r="2.2"/><circle cx="3011.2" cy="1596.9" r="3.7"/><circle cx="3011.2" cy="1611.4" r="3.0"/><circle cx="3011.2" cy="1625.8" r="3.0"/><circle cx="3011.2" cy="1640.2" r="3.7"/><circle cx="3011.2" cy="1654.6" r="4.6"/><circle cx="3011.2" cy="1668.9" r="4.6"/><circle cx="3011.2" cy="1683.1" r="4.1"/><circle cx="3011.2" cy="1697.3" r="4.2"/><circle cx="3011.2" cy="1711.4" r="5.2"/><circle cx="3011.2" cy="1725.5" r="5.1"/><circle cx="3011.2" cy="1739.5" r="5.4"/><circle cx="3011.2" cy="1753.4" r="5.0"/><circle cx="3011.2" cy="1767.3" r="5.1"/><circle cx="3011.2" cy="1781.2" r="5.8"/><circle cx="3011.2" cy="1795.0" r="5.7"/><circle cx="3011.2" cy="1808.7" r="5.5"/><circle cx="3026.6" cy="1523.4" r="2.0"/><circle cx="3026.6" cy="1538.2" r="2.2"/><circle cx="3026.6" cy="1553.0" r="3.3"/><circle cx="3026.6" cy="1567.7" r="2.1"/><circle cx="3026.6" cy="1582.3" r="3.7"/><circle cx="3026.6" cy="1596.9" r="2.5"/><circle cx="3026.6" cy="1611.4" r="4.0"/><circle cx="3026.6" cy="1625.8" r="3.5"/><circle cx="3026.6" cy="1640.2" r="3.6"/><circle cx="3026.6" cy="1654.6" r="4.1"/><circle cx="3026.6" cy="1668.9" r="4.8"/><circle cx="3026.6" cy="1683.1" r="4.1"/><circle cx="3026.6" cy="1697.3" r="4.2"/><circle cx="3026.6" cy="1711.4" r="4.8"/><circle cx="3026.6" cy="1725.5" r="4.8"/><circle cx="3026.6" cy="1739.5" r="4.9"/><circle cx="3026.6" cy="1753.4" r="5.1"/><circle cx="3026.6" cy="1767.3" r="5.1"/><circle cx="3026.6" cy="1781.2" r="5.4"/><circle cx="3026.6" cy="1795.0" r="5.6"/><circle cx="3026.6" cy="1808.7" r="5.7"/><circle cx="3042.1" cy="1523.4" r="1.8"/><circle cx="3042.1" cy="1538.2" r="1.7"/><circle cx="3042.1" cy="1553.0" r="2.7"/><circle cx="3042.1" cy="1567.7" r="2.3"/><circle cx="3042.1" cy="1582.3" r="2.8"/><circle cx="3042.1" cy="1596.9" r="2.4"/><circle cx="3042.1" cy="1611.4" r="3.0"/><circle cx="3042.1" cy="1625.8" r="2.8"/><circle cx="3042.1" cy="1640.2" r="4.1"/><circle cx="3042.1" cy="1654.6" r="4.1"/><circle cx="3042.1" cy="1668.9" r="3.8"/><circle cx="3042.1" cy="1683.1" r="4.4"/><circle cx="3042.1" cy="1697.3" r="5.1"/><circle cx="3042.1" cy="1711.4" r="4.4"/><circle cx="3042.1" cy="1725.5" r="5.3"/><circle cx="3042.1" cy="1739.5" r="5.2"/><circle cx="3042.1" cy="1753.4" r="5.3"/><circle cx="3042.1" cy="1767.3" r="5.8"/><circle cx="3042.1" cy="1781.2" r="5.5"/><circle cx="3042.1" cy="1795.0" r="5.8"/><circle cx="3042.1" cy="1808.7" r="6.1"/><circle cx="3057.5" cy="1538.2" r="2.1"/><circle cx="3057.5" cy="1553.0" r="1.9"/><circle cx="3057.5" cy="1567.7" r="3.5"/><circle cx="3057.5" cy="1582.3" r="3.4"/><circle cx="3057.5" cy="1596.9" r="3.5"/><circle cx="3057.5" cy="1611.4" r="3.3"/><circle cx="3057.5" cy="1625.8" r="3.4"/><circle cx="3057.5" cy="1640.2" r="3.1"/><circle cx="3057.5" cy="1654.6" r="3.5"/><circle cx="3057.5" cy="1668.9" r="3.6"/><circle cx="3057.5" cy="1683.1" r="4.7"/><circle cx="3057.5" cy="1697.3" r="4.3"/><circle cx="3057.5" cy="1711.4" r="4.5"/><circle cx="3057.5" cy="1725.5" r="4.7"/><circle cx="3057.5" cy="1739.5" r="5.5"/><circle cx="3057.5" cy="1753.4" r="5.6"/><circle cx="3057.5" cy="1767.3" r="5.6"/><circle cx="3057.5" cy="1781.2" r="5.4"/><circle cx="3057.5" cy="1795.0" r="5.5"/><circle cx="3057.5" cy="1808.7" r="5.7"/><circle cx="3072.9" cy="1538.2" r="1.5"/><circle cx="3072.9" cy="1553.0" r="1.7"/><circle cx="3072.9" cy="1567.7" r="2.8"/><circle cx="3072.9" cy="1582.3" r="2.6"/><circle cx="3072.9" cy="1596.9" r="4.0"/><circle cx="3072.9" cy="1611.4" r="4.2"/><circle cx="3072.9" cy="1625.8" r="3.7"/><circle cx="3072.9" cy="1640.2" r="3.4"/><circle cx="3072.9" cy="1654.6" r="4.7"/><circle cx="3072.9" cy="1668.9" r="3.9"/><circle cx="3072.9" cy="1683.1" r="4.2"/><circle cx="3072.9" cy="1697.3" r="4.1"/><circle cx="3072.9" cy="1711.4" r="4.7"/><circle cx="3072.9" cy="1725.5" r="5.0"/><circle cx="3072.9" cy="1739.5" r="5.2"/><circle cx="3072.9" cy="1753.4" r="5.1"/><circle cx="3072.9" cy="1767.3" r="5.5"/><circle cx="3072.9" cy="1781.2" r="5.2"/><circle cx="3072.9" cy="1795.0" r="5.6"/><circle cx="3072.9" cy="1808.7" r="5.5"/><circle cx="3088.4" cy="1553.0" r="1.6"/><circle cx="3088.4" cy="1567.7" r="1.6"/><circle cx="3088.4" cy="1582.3" r="2.2"/><circle cx="3088.4" cy="1596.9" r="2.9"/><circle cx="3088.4" cy="1611.4" r="3.0"/><circle cx="3088.4" cy="1625.8" r="3.7"/><circle cx="3088.4" cy="1640.2" r="3.8"/><circle cx="3088.4" cy="1654.6" r="4.3"/><circle cx="3088.4" cy="1668.9" r="4.4"/><circle cx="3088.4" cy="1683.1" r="4.7"/><circle cx="3088.4" cy="1697.3" r="5.0"/><circle cx="3088.4" cy="1711.4" r="4.7"/><circle cx="3088.4" cy="1725.5" r="4.9"/><circle cx="3088.4" cy="1739.5" r="5.6"/><circle cx="3088.4" cy="1753.4" r="5.1"/><circle cx="3088.4" cy="1767.3" r="5.7"/><circle cx="3088.4" cy="1781.2" r="5.7"/><circle cx="3088.4" cy="1795.0" r="5.4"/><circle cx="3088.4" cy="1808.7" r="6.2"/><circle cx="3103.8" cy="1582.3" r="2.3"/><circle cx="3103.8" cy="1596.9" r="2.8"/><circle cx="3103.8" cy="1611.4" r="3.8"/><circle cx="3103.8" cy="1625.8" r="4.1"/><circle cx="3103.8" cy="1640.2" r="3.3"/><circle cx="3103.8" cy="1654.6" r="4.0"/><circle cx="3103.8" cy="1668.9" r="4.2"/><circle cx="3103.8" cy="1683.1" r="4.8"/><circle cx="3103.8" cy="1697.3" r="4.9"/><circle cx="3103.8" cy="1711.4" r="5.1"/><circle cx="3103.8" cy="1725.5" r="5.1"/><circle cx="3103.8" cy="1739.5" r="5.5"/><circle cx="3103.8" cy="1753.4" r="5.5"/><circle cx="3103.8" cy="1767.3" r="5.6"/><circle cx="3103.8" cy="1781.2" r="5.4"/><circle cx="3103.8" cy="1795.0" r="5.4"/><circle cx="3103.8" cy="1808.7" r="5.6"/><circle cx="3119.3" cy="1582.3" r="1.7"/><circle cx="3119.3" cy="1596.9" r="2.0"/><circle cx="3119.3" cy="1611.4" r="4.0"/><circle cx="3119.3" cy="1625.8" r="3.7"/><circle cx="3119.3" cy="1640.2" r="4.0"/><circle cx="3119.3" cy="1654.6" r="4.2"/><circle cx="3119.3" cy="1668.9" r="4.4"/><circle cx="3119.3" cy="1683.1" r="4.4"/><circle cx="3119.3" cy="1697.3" r="4.1"/><circle cx="3119.3" cy="1711.4" r="5.1"/><circle cx="3119.3" cy="1725.5" r="5.2"/><circle cx="3119.3" cy="1739.5" r="5.2"/><circle cx="3119.3" cy="1753.4" r="5.4"/><circle cx="3119.3" cy="1767.3" r="5.6"/><circle cx="3119.3" cy="1781.2" r="5.3"/><circle cx="3119.3" cy="1795.0" r="6.0"/><circle cx="3119.3" cy="1808.7" r="5.7"/><circle cx="3134.8" cy="1582.3" r="1.4"/><circle cx="3134.8" cy="1596.9" r="2.3"/><circle cx="3134.8" cy="1611.4" r="3.8"/><circle cx="3134.8" cy="1625.8" r="3.1"/><circle cx="3134.8" cy="1640.2" r="4.2"/><circle cx="3134.8" cy="1654.6" r="4.7"/><circle cx="3134.8" cy="1668.9" r="4.2"/><circle cx="3134.8" cy="1683.1" r="4.3"/><circle cx="3134.8" cy="1697.3" r="4.6"/><circle cx="3134.8" cy="1711.4" r="5.0"/><circle cx="3134.8" cy="1725.5" r="5.3"/><circle cx="3134.8" cy="1739.5" r="5.3"/><circle cx="3134.8" cy="1753.4" r="5.5"/><circle cx="3134.8" cy="1767.3" r="5.1"/><circle cx="3134.8" cy="1781.2" r="5.3"/><circle cx="3134.8" cy="1795.0" r="5.6"/><circle cx="3134.8" cy="1808.7" r="6.1"/><circle cx="3150.2" cy="1567.7" r="1.6"/><circle cx="3150.2" cy="1582.3" r="2.5"/><circle cx="3150.2" cy="1596.9" r="2.4"/><circle cx="3150.2" cy="1611.4" r="2.7"/><circle cx="3150.2" cy="1625.8" r="3.2"/><circle cx="3150.2" cy="1640.2" r="4.1"/><circle cx="3150.2" cy="1654.6" r="4.3"/><circle cx="3150.2" cy="1668.9" r="4.4"/><circle cx="3150.2" cy="1683.1" r="4.1"/><circle cx="3150.2" cy="1697.3" r="4.6"/><circle cx="3150.2" cy="1711.4" r="4.8"/><circle cx="3150.2" cy="1725.5" r="5.0"/><circle cx="3150.2" cy="1739.5" r="4.9"/><circle cx="3150.2" cy="1753.4" r="5.7"/><circle cx="3150.2" cy="1767.3" r="5.2"/><circle cx="3150.2" cy="1781.2" r="6.0"/><circle cx="3150.2" cy="1795.0" r="6.1"/><circle cx="3150.2" cy="1808.7" r="5.5"/><circle cx="3165.7" cy="1596.9" r="2.0"/><circle cx="3165.7" cy="1611.4" r="3.2"/><circle cx="3165.7" cy="1625.8" r="4.3"/><circle cx="3165.7" cy="1640.2" r="3.7"/><circle cx="3165.7" cy="1654.6" r="3.7"/><circle cx="3165.7" cy="1668.9" r="3.8"/><circle cx="3165.7" cy="1683.1" r="4.9"/><circle cx="3165.7" cy="1697.3" r="4.3"/><circle cx="3165.7" cy="1711.4" r="4.9"/><circle cx="3165.7" cy="1725.5" r="4.7"/><circle cx="3165.7" cy="1739.5" r="5.2"/><circle cx="3165.7" cy="1753.4" r="5.7"/><circle cx="3165.7" cy="1767.3" r="5.2"/><circle cx="3165.7" cy="1781.2" r="5.9"/><circle cx="3165.7" cy="1795.0" r="5.8"/><circle cx="3165.7" cy="1808.7" r="6.2"/><circle cx="3181.1" cy="1596.9" r="2.2"/><circle cx="3181.1" cy="1611.4" r="2.4"/><circle cx="3181.1" cy="1625.8" r="4.2"/><circle cx="3181.1" cy="1640.2" r="3.8"/><circle cx="3181.1" cy="1654.6" r="3.3"/><circle cx="3181.1" cy="1668.9" r="3.5"/><circle cx="3181.1" cy="1683.1" r="4.4"/><circle cx="3181.1" cy="1697.3" r="4.6"/><circle cx="3181.1" cy="1711.4" r="4.6"/><circle cx="3181.1" cy="1725.5" r="4.7"/><circle cx="3181.1" cy="1739.5" r="5.1"/><circle cx="3181.1" cy="1753.4" r="5.2"/><circle cx="3181.1" cy="1767.3" r="5.8"/><circle cx="3181.1" cy="1781.2" r="5.2"/><circle cx="3181.1" cy="1795.0" r="6.0"/><circle cx="3181.1" cy="1808.7" r="6.2"/><circle cx="3196.6" cy="1596.9" r="1.6"/><circle cx="3196.6" cy="1611.4" r="3.3"/><circle cx="3196.6" cy="1625.8" r="3.9"/><circle cx="3196.6" cy="1640.2" r="4.4"/><circle cx="3196.6" cy="1654.6" r="3.7"/><circle cx="3196.6" cy="1668.9" r="4.0"/><circle cx="3196.6" cy="1683.1" r="4.3"/><circle cx="3196.6" cy="1697.3" r="5.1"/><circle cx="3196.6" cy="1711.4" r="4.9"/><circle cx="3196.6" cy="1725.5" r="4.9"/><circle cx="3196.6" cy="1739.5" r="5.2"/><circle cx="3196.6" cy="1753.4" r="5.2"/><circle cx="3196.6" cy="1767.3" r="5.1"/><circle cx="3196.6" cy="1781.2" r="5.3"/><circle cx="3196.6" cy="1795.0" r="6.1"/><circle cx="3196.6" cy="1808.7" r="5.7"/><circle cx="3212.0" cy="1582.3" r="2.4"/><circle cx="3212.0" cy="1596.9" r="2.2"/><circle cx="3212.0" cy="1611.4" r="3.0"/><circle cx="3212.0" cy="1625.8" r="3.6"/><circle cx="3212.0" cy="1640.2" r="3.3"/><circle cx="3212.0" cy="1654.6" r="3.8"/><circle cx="3212.0" cy="1668.9" r="4.8"/><circle cx="3212.0" cy="1683.1" r="4.9"/><circle cx="3212.0" cy="1697.3" r="4.9"/><circle cx="3212.0" cy="1711.4" r="4.9"/><circle cx="3212.0" cy="1725.5" r="5.4"/><circle cx="3212.0" cy="1739.5" r="5.6"/><circle cx="3212.0" cy="1753.4" r="5.4"/><circle cx="3212.0" cy="1767.3" r="5.7"/><circle cx="3212.0" cy="1781.2" r="5.2"/><circle cx="3212.0" cy="1795.0" r="6.0"/><circle cx="3212.0" cy="1808.7" r="5.9"/><circle cx="3227.4" cy="1567.7" r="3.5"/><circle cx="3227.4" cy="1582.3" r="2.7"/><circle cx="3227.4" cy="1596.9" r="2.9"/><circle cx="3227.4" cy="1611.4" r="2.7"/><circle cx="3227.4" cy="1625.8" r="4.3"/><circle cx="3227.4" cy="1640.2" r="3.2"/><circle cx="3227.4" cy="1654.6" r="4.0"/><circle cx="3227.4" cy="1668.9" r="4.0"/><circle cx="3227.4" cy="1683.1" r="4.2"/><circle cx="3227.4" cy="1697.3" r="4.9"/><circle cx="3227.4" cy="1711.4" r="5.3"/><circle cx="3227.4" cy="1725.5" r="4.8"/><circle cx="3227.4" cy="1739.5" r="5.3"/><circle cx="3227.4" cy="1753.4" r="5.2"/><circle cx="3227.4" cy="1767.3" r="5.5"/><circle cx="3227.4" cy="1781.2" r="5.5"/><circle cx="3227.4" cy="1795.0" r="5.5"/><circle cx="3227.4" cy="1808.7" r="5.6"/><circle cx="3242.9" cy="1596.9" r="1.7"/><circle cx="3242.9" cy="1611.4" r="3.3"/><circle cx="3242.9" cy="1625.8" r="3.6"/><circle cx="3242.9" cy="1640.2" r="3.4"/><circle cx="3242.9" cy="1654.6" r="4.6"/><circle cx="3242.9" cy="1668.9" r="4.8"/><circle cx="3242.9" cy="1683.1" r="4.3"/><circle cx="3242.9" cy="1697.3" r="4.2"/><circle cx="3242.9" cy="1711.4" r="4.5"/><circle cx="3242.9" cy="1725.5" r="4.7"/><circle cx="3242.9" cy="1739.5" r="5.1"/><circle cx="3242.9" cy="1753.4" r="5.0"/><circle cx="3242.9" cy="1767.3" r="5.3"/><circle cx="3242.9" cy="1781.2" r="5.4"/><circle cx="3242.9" cy="1795.0" r="5.8"/><circle cx="3242.9" cy="1808.7" r="6.2"/><circle cx="3258.3" cy="1596.9" r="2.3"/><circle cx="3258.3" cy="1611.4" r="2.6"/><circle cx="3258.3" cy="1625.8" r="3.5"/><circle cx="3258.3" cy="1640.2" r="3.8"/><circle cx="3258.3" cy="1654.6" r="3.8"/><circle cx="3258.3" cy="1668.9" r="4.0"/><circle cx="3258.3" cy="1683.1" r="3.9"/><circle cx="3258.3" cy="1697.3" r="4.4"/><circle cx="3258.3" cy="1711.4" r="5.3"/><circle cx="3258.3" cy="1725.5" r="4.7"/><circle cx="3258.3" cy="1739.5" r="5.2"/><circle cx="3258.3" cy="1753.4" r="5.5"/><circle cx="3258.3" cy="1767.3" r="5.8"/><circle cx="3258.3" cy="1781.2" r="5.4"/><circle cx="3258.3" cy="1795.0" r="5.6"/><circle cx="3258.3" cy="1808.7" r="5.7"/><circle cx="3273.8" cy="1625.8" r="2.1"/><circle cx="3273.8" cy="1640.2" r="3.0"/><circle cx="3273.8" cy="1654.6" r="4.6"/><circle cx="3273.8" cy="1668.9" r="4.7"/><circle cx="3273.8" cy="1683.1" r="4.8"/><circle cx="3273.8" cy="1697.3" r="4.1"/><circle cx="3273.8" cy="1711.4" r="4.4"/><circle cx="3273.8" cy="1725.5" r="5.2"/><circle cx="3273.8" cy="1739.5" r="5.5"/><circle cx="3273.8" cy="1753.4" r="5.3"/><circle cx="3273.8" cy="1767.3" r="5.6"/><circle cx="3273.8" cy="1781.2" r="5.2"/><circle cx="3273.8" cy="1795.0" r="5.7"/><circle cx="3273.8" cy="1808.7" r="6.3"/><circle cx="3289.2" cy="1611.4" r="2.5"/><circle cx="3289.2" cy="1625.8" r="3.3"/><circle cx="3289.2" cy="1640.2" r="4.5"/><circle cx="3289.2" cy="1654.6" r="3.6"/><circle cx="3289.2" cy="1668.9" r="3.7"/><circle cx="3289.2" cy="1683.1" r="4.0"/><circle cx="3289.2" cy="1697.3" r="4.6"/><circle cx="3289.2" cy="1711.4" r="5.0"/><circle cx="3289.2" cy="1725.5" r="5.4"/><circle cx="3289.2" cy="1739.5" r="5.4"/><circle cx="3289.2" cy="1753.4" r="5.5"/><circle cx="3289.2" cy="1767.3" r="5.7"/><circle cx="3289.2" cy="1781.2" r="5.6"/><circle cx="3289.2" cy="1795.0" r="5.8"/><circle cx="3289.2" cy="1808.7" r="5.5"/><circle cx="3304.7" cy="1611.4" r="2.4"/><circle cx="3304.7" cy="1625.8" r="2.5"/><circle cx="3304.7" cy="1640.2" r="4.4"/><circle cx="3304.7" cy="1654.6" r="4.2"/><circle cx="3304.7" cy="1668.9" r="3.9"/><circle cx="3304.7" cy="1683.1" r="4.0"/><circle cx="3304.7" cy="1697.3" r="4.3"/><circle cx="3304.7" cy="1711.4" r="5.0"/><circle cx="3304.7" cy="1725.5" r="5.2"/><circle cx="3304.7" cy="1739.5" r="4.9"/><circle cx="3304.7" cy="1753.4" r="5.0"/><circle cx="3304.7" cy="1767.3" r="5.5"/><circle cx="3304.7" cy="1781.2" r="5.7"/><circle cx="3304.7" cy="1795.0" r="5.7"/><circle cx="3304.7" cy="1808.7" r="5.7"/><circle cx="3320.2" cy="1596.9" r="2.1"/><circle cx="3320.2" cy="1611.4" r="2.1"/><circle cx="3320.2" cy="1625.8" r="3.3"/><circle cx="3320.2" cy="1640.2" r="3.7"/><circle cx="3320.2" cy="1654.6" r="4.6"/><circle cx="3320.2" cy="1668.9" r="4.4"/><circle cx="3320.2" cy="1683.1" r="4.9"/><circle cx="3320.2" cy="1697.3" r="4.6"/><circle cx="3320.2" cy="1711.4" r="4.6"/><circle cx="3320.2" cy="1725.5" r="4.8"/><circle cx="3320.2" cy="1739.5" r="5.6"/><circle cx="3320.2" cy="1753.4" r="5.5"/><circle cx="3320.2" cy="1767.3" r="5.3"/><circle cx="3320.2" cy="1781.2" r="5.2"/><circle cx="3320.2" cy="1795.0" r="5.8"/><circle cx="3320.2" cy="1808.7" r="6.1"/><circle cx="3335.6" cy="1567.7" r="1.7"/><circle cx="3335.6" cy="1582.3" r="2.1"/><circle cx="3335.6" cy="1596.9" r="3.5"/><circle cx="3335.6" cy="1611.4" r="4.1"/><circle cx="3335.6" cy="1625.8" r="3.2"/><circle cx="3335.6" cy="1640.2" r="3.1"/><circle cx="3335.6" cy="1654.6" r="3.8"/><circle cx="3335.6" cy="1668.9" r="4.1"/><circle cx="3335.6" cy="1683.1" r="4.6"/><circle cx="3335.6" cy="1697.3" r="4.3"/><circle cx="3335.6" cy="1711.4" r="5.1"/><circle cx="3335.6" cy="1725.5" r="5.2"/><circle cx="3335.6" cy="1739.5" r="5.2"/><circle cx="3335.6" cy="1753.4" r="5.1"/><circle cx="3335.6" cy="1767.3" r="5.9"/><circle cx="3335.6" cy="1781.2" r="5.5"/><circle cx="3335.6" cy="1795.0" r="6.0"/><circle cx="3335.6" cy="1808.7" r="5.7"/><circle cx="3351.1" cy="1582.3" r="1.6"/><circle cx="3351.1" cy="1596.9" r="3.0"/><circle cx="3351.1" cy="1611.4" r="3.1"/><circle cx="3351.1" cy="1625.8" r="4.3"/><circle cx="3351.1" cy="1640.2" r="3.8"/><circle cx="3351.1" cy="1654.6" r="3.6"/><circle cx="3351.1" cy="1668.9" r="3.8"/><circle cx="3351.1" cy="1683.1" r="4.3"/><circle cx="3351.1" cy="1697.3" r="4.8"/><circle cx="3351.1" cy="1711.4" r="5.3"/><circle cx="3351.1" cy="1725.5" r="4.8"/><circle cx="3351.1" cy="1739.5" r="5.1"/><circle cx="3351.1" cy="1753.4" r="5.1"/><circle cx="3351.1" cy="1767.3" r="5.9"/><circle cx="3351.1" cy="1781.2" r="5.3"/><circle cx="3351.1" cy="1795.0" r="5.4"/><circle cx="3351.1" cy="1808.7" r="5.5"/><circle cx="3366.5" cy="1567.7" r="1.7"/><circle cx="3366.5" cy="1582.3" r="3.0"/><circle cx="3366.5" cy="1596.9" r="3.9"/><circle cx="3366.5" cy="1611.4" r="3.8"/><circle cx="3366.5" cy="1625.8" r="4.4"/><circle cx="3366.5" cy="1640.2" r="4.4"/><circle cx="3366.5" cy="1654.6" r="3.8"/><circle cx="3366.5" cy="1668.9" r="3.8"/><circle cx="3366.5" cy="1683.1" r="4.9"/><circle cx="3366.5" cy="1697.3" r="4.9"/><circle cx="3366.5" cy="1711.4" r="4.4"/><circle cx="3366.5" cy="1725.5" r="5.2"/><circle cx="3366.5" cy="1739.5" r="5.1"/><circle cx="3366.5" cy="1753.4" r="5.2"/><circle cx="3366.5" cy="1767.3" r="5.3"/><circle cx="3366.5" cy="1781.2" r="5.3"/><circle cx="3366.5" cy="1795.0" r="5.3"/><circle cx="3366.5" cy="1808.7" r="5.7"/><circle cx="3381.9" cy="1567.7" r="1.6"/><circle cx="3381.9" cy="1582.3" r="3.1"/><circle cx="3381.9" cy="1596.9" r="2.6"/><circle cx="3381.9" cy="1611.4" r="4.2"/><circle cx="3381.9" cy="1625.8" r="3.1"/><circle cx="3381.9" cy="1640.2" r="3.6"/><circle cx="3381.9" cy="1654.6" r="4.4"/><circle cx="3381.9" cy="1668.9" r="4.6"/><circle cx="3381.9" cy="1683.1" r="4.3"/><circle cx="3381.9" cy="1697.3" r="4.1"/><circle cx="3381.9" cy="1711.4" r="4.8"/><circle cx="3381.9" cy="1725.5" r="4.9"/><circle cx="3381.9" cy="1739.5" r="5.5"/><circle cx="3381.9" cy="1753.4" r="5.1"/><circle cx="3381.9" cy="1767.3" r="5.4"/><circle cx="3381.9" cy="1781.2" r="6.0"/><circle cx="3381.9" cy="1795.0" r="5.4"/><circle cx="3381.9" cy="1808.7" r="5.8"/><circle cx="3397.4" cy="1567.7" r="2.1"/><circle cx="3397.4" cy="1582.3" r="2.8"/><circle cx="3397.4" cy="1596.9" r="2.4"/><circle cx="3397.4" cy="1611.4" r="2.7"/><circle cx="3397.4" cy="1625.8" r="2.9"/><circle cx="3397.4" cy="1640.2" r="4.4"/><circle cx="3397.4" cy="1654.6" r="3.7"/><circle cx="3397.4" cy="1668.9" r="4.5"/><circle cx="3397.4" cy="1683.1" r="4.9"/><circle cx="3397.4" cy="1697.3" r="4.4"/><circle cx="3397.4" cy="1711.4" r="4.6"/><circle cx="3397.4" cy="1725.5" r="5.4"/><circle cx="3397.4" cy="1739.5" r="5.3"/><circle cx="3397.4" cy="1753.4" r="5.2"/><circle cx="3397.4" cy="1767.3" r="5.7"/><circle cx="3397.4" cy="1781.2" r="5.5"/><circle cx="3397.4" cy="1795.0" r="5.6"/><circle cx="3397.4" cy="1808.7" r="5.5"/><circle cx="3412.8" cy="1582.3" r="2.2"/><circle cx="3412.8" cy="1596.9" r="3.2"/><circle cx="3412.8" cy="1611.4" r="3.6"/><circle cx="3412.8" cy="1625.8" r="4.3"/><circle cx="3412.8" cy="1640.2" r="3.1"/><circle cx="3412.8" cy="1654.6" r="3.6"/><circle cx="3412.8" cy="1668.9" r="4.2"/><circle cx="3412.8" cy="1683.1" r="4.9"/><circle cx="3412.8" cy="1697.3" r="5.1"/><circle cx="3412.8" cy="1711.4" r="4.7"/><circle cx="3412.8" cy="1725.5" r="4.8"/><circle cx="3412.8" cy="1739.5" r="5.2"/><circle cx="3412.8" cy="1753.4" r="5.3"/><circle cx="3412.8" cy="1767.3" r="5.8"/><circle cx="3412.8" cy="1781.2" r="5.4"/><circle cx="3412.8" cy="1795.0" r="6.0"/><circle cx="3412.8" cy="1808.7" r="6.1"/><circle cx="3428.3" cy="1582.3" r="2.3"/><circle cx="3428.3" cy="1596.9" r="3.0"/><circle cx="3428.3" cy="1611.4" r="3.6"/><circle cx="3428.3" cy="1625.8" r="3.3"/><circle cx="3428.3" cy="1640.2" r="3.5"/><circle cx="3428.3" cy="1654.6" r="3.8"/><circle cx="3428.3" cy="1668.9" r="4.6"/><circle cx="3428.3" cy="1683.1" r="3.9"/><circle cx="3428.3" cy="1697.3" r="4.3"/><circle cx="3428.3" cy="1711.4" r="5.1"/><circle cx="3428.3" cy="1725.5" r="4.8"/><circle cx="3428.3" cy="1739.5" r="4.9"/><circle cx="3428.3" cy="1753.4" r="5.0"/><circle cx="3428.3" cy="1767.3" r="5.5"/><circle cx="3428.3" cy="1781.2" r="5.5"/><circle cx="3428.3" cy="1795.0" r="6.2"/><circle cx="3428.3" cy="1808.7" r="6.2"/><circle cx="3443.8" cy="1553.0" r="2.5"/><circle cx="3443.8" cy="1567.7" r="2.0"/><circle cx="3443.8" cy="1582.3" r="2.3"/><circle cx="3443.8" cy="1596.9" r="2.5"/><circle cx="3443.8" cy="1611.4" r="3.4"/><circle cx="3443.8" cy="1625.8" r="3.9"/><circle cx="3443.8" cy="1640.2" r="3.7"/><circle cx="3443.8" cy="1654.6" r="3.6"/><circle cx="3443.8" cy="1668.9" r="4.1"/><circle cx="3443.8" cy="1683.1" r="4.5"/><circle cx="3443.8" cy="1697.3" r="4.8"/><circle cx="3443.8" cy="1711.4" r="5.1"/><circle cx="3443.8" cy="1725.5" r="5.3"/><circle cx="3443.8" cy="1739.5" r="5.3"/><circle cx="3443.8" cy="1753.4" r="5.0"/><circle cx="3443.8" cy="1767.3" r="5.8"/><circle cx="3443.8" cy="1781.2" r="5.5"/><circle cx="3443.8" cy="1795.0" r="5.8"/><circle cx="3443.8" cy="1808.7" r="5.8"/><circle cx="3459.2" cy="1567.7" r="2.1"/><circle cx="3459.2" cy="1582.3" r="2.0"/><circle cx="3459.2" cy="1596.9" r="2.8"/><circle cx="3459.2" cy="1611.4" r="3.0"/><circle cx="3459.2" cy="1625.8" r="3.1"/><circle cx="3459.2" cy="1640.2" r="4.4"/><circle cx="3459.2" cy="1654.6" r="4.1"/><circle cx="3459.2" cy="1668.9" r="4.0"/><circle cx="3459.2" cy="1683.1" r="4.3"/><circle cx="3459.2" cy="1697.3" r="5.1"/><circle cx="3459.2" cy="1711.4" r="4.8"/><circle cx="3459.2" cy="1725.5" r="4.8"/><circle cx="3459.2" cy="1739.5" r="5.4"/><circle cx="3459.2" cy="1753.4" r="5.5"/><circle cx="3459.2" cy="1767.3" r="5.9"/><circle cx="3459.2" cy="1781.2" r="5.3"/><circle cx="3459.2" cy="1795.0" r="5.7"/><circle cx="3459.2" cy="1808.7" r="6.2"/><circle cx="3474.7" cy="1567.7" r="2.2"/><circle cx="3474.7" cy="1582.3" r="3.0"/><circle cx="3474.7" cy="1596.9" r="2.4"/><circle cx="3474.7" cy="1611.4" r="3.1"/><circle cx="3474.7" cy="1625.8" r="3.0"/><circle cx="3474.7" cy="1640.2" r="3.3"/><circle cx="3474.7" cy="1654.6" r="4.7"/><circle cx="3474.7" cy="1668.9" r="4.3"/><circle cx="3474.7" cy="1683.1" r="4.9"/><circle cx="3474.7" cy="1697.3" r="4.5"/><circle cx="3474.7" cy="1711.4" r="5.2"/><circle cx="3474.7" cy="1725.5" r="5.0"/><circle cx="3474.7" cy="1739.5" r="5.0"/><circle cx="3474.7" cy="1753.4" r="5.6"/><circle cx="3474.7" cy="1767.3" r="5.9"/><circle cx="3474.7" cy="1781.2" r="5.3"/><circle cx="3474.7" cy="1795.0" r="5.8"/><circle cx="3474.7" cy="1808.7" r="6.0"/><circle cx="3490.1" cy="1523.4" r="3.5"/><circle cx="3490.1" cy="1553.0" r="2.5"/><circle cx="3490.1" cy="1567.7" r="2.2"/><circle cx="3490.1" cy="1582.3" r="2.5"/><circle cx="3490.1" cy="1596.9" r="2.8"/><circle cx="3490.1" cy="1611.4" r="3.6"/><circle cx="3490.1" cy="1625.8" r="3.8"/><circle cx="3490.1" cy="1640.2" r="3.4"/><circle cx="3490.1" cy="1654.6" r="3.3"/><circle cx="3490.1" cy="1668.9" r="4.0"/><circle cx="3490.1" cy="1683.1" r="4.6"/><circle cx="3490.1" cy="1697.3" r="4.3"/><circle cx="3490.1" cy="1711.4" r="4.6"/><circle cx="3490.1" cy="1725.5" r="4.8"/><circle cx="3490.1" cy="1739.5" r="5.4"/><circle cx="3490.1" cy="1753.4" r="5.4"/><circle cx="3490.1" cy="1767.3" r="5.1"/><circle cx="3490.1" cy="1781.2" r="5.3"/><circle cx="3490.1" cy="1795.0" r="5.7"/><circle cx="3490.1" cy="1808.7" r="6.0"/><circle cx="3505.6" cy="1567.7" r="1.9"/><circle cx="3505.6" cy="1582.3" r="1.9"/><circle cx="3505.6" cy="1596.9" r="2.7"/><circle cx="3505.6" cy="1611.4" r="3.7"/><circle cx="3505.6" cy="1625.8" r="3.5"/><circle cx="3505.6" cy="1640.2" r="3.5"/><circle cx="3505.6" cy="1654.6" r="3.7"/><circle cx="3505.6" cy="1668.9" r="4.8"/><circle cx="3505.6" cy="1683.1" r="4.2"/><circle cx="3505.6" cy="1697.3" r="4.7"/><circle cx="3505.6" cy="1711.4" r="4.7"/><circle cx="3505.6" cy="1725.5" r="5.0"/><circle cx="3505.6" cy="1739.5" r="5.5"/><circle cx="3505.6" cy="1753.4" r="5.7"/><circle cx="3505.6" cy="1767.3" r="5.4"/><circle cx="3505.6" cy="1781.2" r="5.4"/><circle cx="3505.6" cy="1795.0" r="6.0"/><circle cx="3505.6" cy="1808.7" r="5.6"/><circle cx="3521.0" cy="1567.7" r="1.2"/><circle cx="3521.0" cy="1582.3" r="3.0"/><circle cx="3521.0" cy="1596.9" r="3.1"/><circle cx="3521.0" cy="1611.4" r="4.0"/><circle cx="3521.0" cy="1625.8" r="3.5"/><circle cx="3521.0" cy="1640.2" r="4.4"/><circle cx="3521.0" cy="1654.6" r="3.9"/><circle cx="3521.0" cy="1668.9" r="3.8"/><circle cx="3521.0" cy="1683.1" r="3.8"/><circle cx="3521.0" cy="1697.3" r="4.7"/><circle cx="3521.0" cy="1711.4" r="5.0"/><circle cx="3521.0" cy="1725.5" r="5.4"/><circle cx="3521.0" cy="1739.5" r="4.9"/><circle cx="3521.0" cy="1753.4" r="5.4"/><circle cx="3521.0" cy="1767.3" r="5.4"/><circle cx="3521.0" cy="1781.2" r="5.6"/><circle cx="3521.0" cy="1795.0" r="5.5"/><circle cx="3521.0" cy="1808.7" r="5.7"/><circle cx="3536.4" cy="1611.4" r="2.1"/><circle cx="3536.4" cy="1625.8" r="3.4"/><circle cx="3536.4" cy="1640.2" r="3.2"/><circle cx="3536.4" cy="1654.6" r="4.0"/><circle cx="3536.4" cy="1668.9" r="4.6"/><circle cx="3536.4" cy="1683.1" r="5.0"/><circle cx="3536.4" cy="1697.3" r="4.3"/><circle cx="3536.4" cy="1711.4" r="4.5"/><circle cx="3536.4" cy="1725.5" r="5.4"/><circle cx="3536.4" cy="1739.5" r="5.6"/><circle cx="3536.4" cy="1753.4" r="5.3"/><circle cx="3536.4" cy="1767.3" r="5.1"/><circle cx="3536.4" cy="1781.2" r="6.0"/><circle cx="3536.4" cy="1795.0" r="5.7"/><circle cx="3536.4" cy="1808.7" r="6.3"/><circle cx="3551.9" cy="1596.9" r="2.1"/><circle cx="3551.9" cy="1611.4" r="3.2"/><circle cx="3551.9" cy="1625.8" r="3.1"/><circle cx="3551.9" cy="1640.2" r="4.2"/><circle cx="3551.9" cy="1654.6" r="3.6"/><circle cx="3551.9" cy="1668.9" r="4.1"/><circle cx="3551.9" cy="1683.1" r="4.8"/><circle cx="3551.9" cy="1697.3" r="5.0"/><circle cx="3551.9" cy="1711.4" r="4.5"/><circle cx="3551.9" cy="1725.5" r="4.8"/><circle cx="3551.9" cy="1739.5" r="5.1"/><circle cx="3551.9" cy="1753.4" r="5.4"/><circle cx="3551.9" cy="1767.3" r="5.4"/><circle cx="3551.9" cy="1781.2" r="5.3"/><circle cx="3551.9" cy="1795.0" r="5.5"/><circle cx="3551.9" cy="1808.7" r="6.1"/><circle cx="3567.3" cy="1596.9" r="2.4"/><circle cx="3567.3" cy="1611.4" r="2.1"/><circle cx="3567.3" cy="1625.8" r="3.7"/><circle cx="3567.3" cy="1640.2" r="4.2"/><circle cx="3567.3" cy="1654.6" r="3.3"/><circle cx="3567.3" cy="1668.9" r="4.6"/><circle cx="3567.3" cy="1683.1" r="3.9"/><circle cx="3567.3" cy="1697.3" r="4.7"/><circle cx="3567.3" cy="1711.4" r="4.9"/><circle cx="3567.3" cy="1725.5" r="5.1"/><circle cx="3567.3" cy="1739.5" r="5.1"/><circle cx="3567.3" cy="1753.4" r="5.3"/><circle cx="3567.3" cy="1767.3" r="5.6"/><circle cx="3567.3" cy="1781.2" r="5.6"/><circle cx="3567.3" cy="1795.0" r="5.9"/><circle cx="3567.3" cy="1808.7" r="5.9"/><circle cx="3582.8" cy="1582.3" r="1.8"/><circle cx="3582.8" cy="1596.9" r="1.9"/><circle cx="3582.8" cy="1611.4" r="3.6"/><circle cx="3582.8" cy="1625.8" r="3.6"/><circle cx="3582.8" cy="1640.2" r="3.4"/><circle cx="3582.8" cy="1654.6" r="4.4"/><circle cx="3582.8" cy="1668.9" r="4.6"/><circle cx="3582.8" cy="1683.1" r="4.3"/><circle cx="3582.8" cy="1697.3" r="4.3"/><circle cx="3582.8" cy="1711.4" r="4.8"/><circle cx="3582.8" cy="1725.5" r="4.7"/><circle cx="3582.8" cy="1739.5" r="4.9"/><circle cx="3582.8" cy="1753.4" r="5.3"/><circle cx="3582.8" cy="1767.3" r="5.1"/><circle cx="3582.8" cy="1781.2" r="5.6"/><circle cx="3582.8" cy="1795.0" r="5.8"/><circle cx="3582.8" cy="1808.7" r="5.5"/><circle cx="3598.2" cy="1582.3" r="2.0"/><circle cx="3598.2" cy="1596.9" r="2.0"/><circle cx="3598.2" cy="1611.4" r="3.8"/><circle cx="3598.2" cy="1625.8" r="4.0"/><circle cx="3598.2" cy="1640.2" r="3.8"/><circle cx="3598.2" cy="1654.6" r="3.4"/><circle cx="3598.2" cy="1668.9" r="4.2"/><circle cx="3598.2" cy="1683.1" r="4.3"/><circle cx="3598.2" cy="1697.3" r="5.1"/><circle cx="3598.2" cy="1711.4" r="4.5"/><circle cx="3598.2" cy="1725.5" r="5.3"/><circle cx="3598.2" cy="1739.5" r="5.6"/><circle cx="3598.2" cy="1753.4" r="5.5"/><circle cx="3598.2" cy="1767.3" r="5.7"/><circle cx="3598.2" cy="1781.2" r="5.4"/><circle cx="3598.2" cy="1795.0" r="6.2"/><circle cx="3598.2" cy="1808.7" r="5.9"/><circle cx="3613.7" cy="1553.0" r="2.2"/><circle cx="3613.7" cy="1567.7" r="2.9"/><circle cx="3613.7" cy="1582.3" r="2.5"/><circle cx="3613.7" cy="1596.9" r="3.7"/><circle cx="3613.7" cy="1611.4" r="4.1"/><circle cx="3613.7" cy="1625.8" r="2.9"/><circle cx="3613.7" cy="1640.2" r="3.6"/><circle cx="3613.7" cy="1654.6" r="4.4"/><circle cx="3613.7" cy="1668.9" r="3.7"/><circle cx="3613.7" cy="1683.1" r="4.9"/><circle cx="3613.7" cy="1697.3" r="4.4"/><circle cx="3613.7" cy="1711.4" r="5.1"/><circle cx="3613.7" cy="1725.5" r="4.7"/><circle cx="3613.7" cy="1739.5" r="5.2"/><circle cx="3613.7" cy="1753.4" r="5.7"/><circle cx="3613.7" cy="1767.3" r="5.2"/><circle cx="3613.7" cy="1781.2" r="5.4"/><circle cx="3613.7" cy="1795.0" r="5.8"/><circle cx="3613.7" cy="1808.7" r="5.7"/><circle cx="3629.2" cy="1553.0" r="1.2"/><circle cx="3629.2" cy="1567.7" r="1.8"/><circle cx="3629.2" cy="1582.3" r="2.5"/><circle cx="3629.2" cy="1596.9" r="4.0"/><circle cx="3629.2" cy="1611.4" r="3.7"/><circle cx="3629.2" cy="1625.8" r="4.2"/><circle cx="3629.2" cy="1640.2" r="3.3"/><circle cx="3629.2" cy="1654.6" r="4.4"/><circle cx="3629.2" cy="1668.9" r="3.7"/><circle cx="3629.2" cy="1683.1" r="4.4"/><circle cx="3629.2" cy="1697.3" r="4.8"/><circle cx="3629.2" cy="1711.4" r="4.7"/><circle cx="3629.2" cy="1725.5" r="5.3"/><circle cx="3629.2" cy="1739.5" r="5.3"/><circle cx="3629.2" cy="1753.4" r="5.4"/><circle cx="3629.2" cy="1767.3" r="5.8"/><circle cx="3629.2" cy="1781.2" r="5.3"/><circle cx="3629.2" cy="1795.0" r="6.2"/><circle cx="3629.2" cy="1808.7" r="6.0"/><circle cx="3644.6" cy="1553.0" r="1.6"/><circle cx="3644.6" cy="1567.7" r="2.7"/><circle cx="3644.6" cy="1582.3" r="2.6"/><circle cx="3644.6" cy="1596.9" r="4.1"/><circle cx="3644.6" cy="1611.4" r="3.5"/><circle cx="3644.6" cy="1625.8" r="3.4"/><circle cx="3644.6" cy="1640.2" r="4.2"/><circle cx="3644.6" cy="1654.6" r="3.9"/><circle cx="3644.6" cy="1668.9" r="3.8"/><circle cx="3644.6" cy="1683.1" r="4.7"/><circle cx="3644.6" cy="1697.3" r="4.1"/><circle cx="3644.6" cy="1711.4" r="5.1"/><circle cx="3644.6" cy="1725.5" r="4.8"/><circle cx="3644.6" cy="1739.5" r="5.3"/><circle cx="3644.6" cy="1753.4" r="5.7"/><circle cx="3644.6" cy="1767.3" r="5.6"/><circle cx="3644.6" cy="1781.2" r="5.8"/><circle cx="3644.6" cy="1795.0" r="5.6"/><circle cx="3644.6" cy="1808.7" r="5.5"/><circle cx="3660.1" cy="1538.2" r="2.5"/><circle cx="3660.1" cy="1553.0" r="1.7"/><circle cx="3660.1" cy="1567.7" r="3.1"/><circle cx="3660.1" cy="1582.3" r="2.9"/><circle cx="3660.1" cy="1596.9" r="3.3"/><circle cx="3660.1" cy="1611.4" r="4.1"/><circle cx="3660.1" cy="1625.8" r="3.0"/><circle cx="3660.1" cy="1640.2" r="3.4"/><circle cx="3660.1" cy="1654.6" r="4.2"/><circle cx="3660.1" cy="1668.9" r="3.6"/><circle cx="3660.1" cy="1683.1" r="3.8"/><circle cx="3660.1" cy="1697.3" r="4.5"/><circle cx="3660.1" cy="1711.4" r="4.4"/><circle cx="3660.1" cy="1725.5" r="4.9"/><circle cx="3660.1" cy="1739.5" r="5.0"/><circle cx="3660.1" cy="1753.4" r="5.4"/><circle cx="3660.1" cy="1767.3" r="5.6"/><circle cx="3660.1" cy="1781.2" r="5.4"/><circle cx="3660.1" cy="1795.0" r="5.9"/><circle cx="3660.1" cy="1808.7" r="5.9"/><circle cx="3675.5" cy="1553.0" r="1.3"/><circle cx="3675.5" cy="1567.7" r="2.9"/><circle cx="3675.5" cy="1582.3" r="2.6"/><circle cx="3675.5" cy="1596.9" r="2.6"/><circle cx="3675.5" cy="1611.4" r="2.8"/><circle cx="3675.5" cy="1625.8" r="3.8"/><circle cx="3675.5" cy="1640.2" r="4.4"/><circle cx="3675.5" cy="1654.6" r="4.4"/><circle cx="3675.5" cy="1668.9" r="4.1"/><circle cx="3675.5" cy="1683.1" r="4.1"/><circle cx="3675.5" cy="1697.3" r="4.1"/><circle cx="3675.5" cy="1711.4" r="5.0"/><circle cx="3675.5" cy="1725.5" r="5.1"/><circle cx="3675.5" cy="1739.5" r="5.1"/><circle cx="3675.5" cy="1753.4" r="5.5"/><circle cx="3675.5" cy="1767.3" r="5.4"/><circle cx="3675.5" cy="1781.2" r="6.0"/><circle cx="3675.5" cy="1795.0" r="6.0"/><circle cx="3675.5" cy="1808.7" r="5.7"/><circle cx="3690.9" cy="1567.7" r="2.2"/><circle cx="3690.9" cy="1582.3" r="1.8"/><circle cx="3690.9" cy="1596.9" r="3.3"/><circle cx="3690.9" cy="1611.4" r="3.3"/><circle cx="3690.9" cy="1625.8" r="3.2"/><circle cx="3690.9" cy="1640.2" r="3.1"/><circle cx="3690.9" cy="1654.6" r="4.4"/><circle cx="3690.9" cy="1668.9" r="3.6"/><circle cx="3690.9" cy="1683.1" r="4.5"/><circle cx="3690.9" cy="1697.3" r="5.1"/><circle cx="3690.9" cy="1711.4" r="4.5"/><circle cx="3690.9" cy="1725.5" r="4.8"/><circle cx="3690.9" cy="1739.5" r="5.3"/><circle cx="3690.9" cy="1753.4" r="5.4"/><circle cx="3690.9" cy="1767.3" r="5.6"/><circle cx="3690.9" cy="1781.2" r="5.9"/><circle cx="3690.9" cy="1795.0" r="5.5"/><circle cx="3690.9" cy="1808.7" r="5.7"/><circle cx="3706.4" cy="1567.7" r="1.6"/><circle cx="3706.4" cy="1582.3" r="1.8"/><circle cx="3706.4" cy="1596.9" r="3.9"/><circle cx="3706.4" cy="1611.4" r="3.9"/><circle cx="3706.4" cy="1625.8" r="3.9"/><circle cx="3706.4" cy="1640.2" r="3.1"/><circle cx="3706.4" cy="1654.6" r="4.5"/><circle cx="3706.4" cy="1668.9" r="4.5"/><circle cx="3706.4" cy="1683.1" r="4.4"/><circle cx="3706.4" cy="1697.3" r="4.9"/><circle cx="3706.4" cy="1711.4" r="4.8"/><circle cx="3706.4" cy="1725.5" r="4.8"/><circle cx="3706.4" cy="1739.5" r="4.9"/><circle cx="3706.4" cy="1753.4" r="5.1"/><circle cx="3706.4" cy="1767.3" r="5.1"/><circle cx="3706.4" cy="1781.2" r="5.5"/><circle cx="3706.4" cy="1795.0" r="6.0"/><circle cx="3706.4" cy="1808.7" r="6.1"/><circle cx="3721.8" cy="1553.0" r="2.1"/><circle cx="3721.8" cy="1567.7" r="2.6"/><circle cx="3721.8" cy="1582.3" r="2.6"/><circle cx="3721.8" cy="1596.9" r="3.3"/><circle cx="3721.8" cy="1611.4" r="3.3"/><circle cx="3721.8" cy="1625.8" r="4.1"/><circle cx="3721.8" cy="1640.2" r="3.8"/><circle cx="3721.8" cy="1654.6" r="3.7"/><circle cx="3721.8" cy="1668.9" r="4.4"/><circle cx="3721.8" cy="1683.1" r="5.0"/><circle cx="3721.8" cy="1697.3" r="4.3"/><circle cx="3721.8" cy="1711.4" r="5.2"/><circle cx="3721.8" cy="1725.5" r="4.6"/><circle cx="3721.8" cy="1739.5" r="5.0"/><circle cx="3721.8" cy="1753.4" r="5.1"/><circle cx="3721.8" cy="1767.3" r="5.7"/><circle cx="3721.8" cy="1781.2" r="6.0"/><circle cx="3721.8" cy="1795.0" r="6.0"/><circle cx="3721.8" cy="1808.7" r="5.8"/><circle cx="3737.3" cy="1523.4" r="2.5"/><circle cx="3737.3" cy="1538.2" r="1.8"/><circle cx="3737.3" cy="1553.0" r="2.2"/><circle cx="3737.3" cy="1567.7" r="3.6"/><circle cx="3737.3" cy="1582.3" r="3.3"/><circle cx="3737.3" cy="1596.9" r="3.6"/><circle cx="3737.3" cy="1611.4" r="3.7"/><circle cx="3737.3" cy="1625.8" r="4.4"/><circle cx="3737.3" cy="1640.2" r="3.8"/><circle cx="3737.3" cy="1654.6" r="4.5"/><circle cx="3737.3" cy="1668.9" r="4.5"/><circle cx="3737.3" cy="1683.1" r="4.8"/><circle cx="3737.3" cy="1697.3" r="4.5"/><circle cx="3737.3" cy="1711.4" r="5.0"/><circle cx="3737.3" cy="1725.5" r="5.1"/><circle cx="3737.3" cy="1739.5" r="5.1"/><circle cx="3737.3" cy="1753.4" r="5.1"/><circle cx="3737.3" cy="1767.3" r="5.6"/><circle cx="3737.3" cy="1781.2" r="5.3"/><circle cx="3737.3" cy="1795.0" r="6.1"/><circle cx="3737.3" cy="1808.7" r="5.6"/><circle cx="3752.8" cy="1538.2" r="1.2"/><circle cx="3752.8" cy="1553.0" r="1.6"/><circle cx="3752.8" cy="1567.7" r="3.7"/><circle cx="3752.8" cy="1582.3" r="2.8"/><circle cx="3752.8" cy="1596.9" r="2.6"/><circle cx="3752.8" cy="1611.4" r="2.6"/><circle cx="3752.8" cy="1625.8" r="2.9"/><circle cx="3752.8" cy="1640.2" r="4.1"/><circle cx="3752.8" cy="1654.6" r="4.2"/><circle cx="3752.8" cy="1668.9" r="4.5"/><circle cx="3752.8" cy="1683.1" r="4.7"/><circle cx="3752.8" cy="1697.3" r="4.1"/><circle cx="3752.8" cy="1711.4" r="4.9"/><circle cx="3752.8" cy="1725.5" r="4.9"/><circle cx="3752.8" cy="1739.5" r="5.5"/><circle cx="3752.8" cy="1753.4" r="5.6"/><circle cx="3752.8" cy="1767.3" r="5.8"/><circle cx="3752.8" cy="1781.2" r="5.3"/><circle cx="3752.8" cy="1795.0" r="6.1"/><circle cx="3752.8" cy="1808.7" r="6.3"/></g>
<g clip-path="url(#cpCover)"><circle cx="3604.8" cy="1792.3" r="84.4" fill="#FDC93B"/></g>
<text x="3552.7" y="1777.4" font-size="24.5" fill="#FFF6E0" font-family="'Liberation Sans', Arial, Helvetica, sans-serif" font-weight="bold" textLength="103" lengthAdjust="spacingAndGlyphs" >bmwk.de</text></g>
<text x="141.2" y="1867.4" font-size="41.67" fill="#96989B" font-family="'Liberation Sans', Arial, Helvetica, sans-serif" textLength="132.0" lengthAdjust="spacingAndGlyphs" >Quelle:</text>
<text x="141.2" y="1912.1" font-size="41.67" fill="#96989B" font-family="'Liberation Sans', Arial, Helvetica, sans-serif" textLength="1086.2" lengthAdjust="spacingAndGlyphs" >https://www.bundesregierung.de/breg-de/aktuelles/ausbau-</text>
<text x="141.2" y="1956.8" font-size="41.67" fill="#96989B" font-family="'Liberation Sans', Arial, Helvetica, sans-serif" textLength="576.5" lengthAdjust="spacingAndGlyphs" >erneuerbare-energien-2225808</text>
<text x="2741.6" y="1865.4" font-size="41.67" fill="#96989B" font-family="'Liberation Sans', Arial, Helvetica, sans-serif" textLength="132.0" lengthAdjust="spacingAndGlyphs" >Quelle:</text>
<text x="2741.6" y="1910.25" font-size="41.67" fill="#96989B" font-family="'Liberation Sans', Arial, Helvetica, sans-serif" textLength="932.2" lengthAdjust="spacingAndGlyphs" >https://www.bmwk.de/Redaktion/DE/Publikationen/</text>
<text x="2741.6" y="1955.1" font-size="41.67" fill="#96989B" font-family="'Liberation Sans', Arial, Helvetica, sans-serif" textLength="773.6" lengthAdjust="spacingAndGlyphs" >Energie/20240801-strommarktdesign-der-</text>
<text x="2741.6" y="1999.95" font-size="41.67" fill="#96989B" font-family="'Liberation Sans', Arial, Helvetica, sans-serif" textLength="755.9" lengthAdjust="spacingAndGlyphs" >zukunft.pdf?__blob=publicationFile&amp;v=10</text>
<text x="141.2" y="2146.8" font-size="56" fill="#939598" font-family="'Liberation Sans', Arial, Helvetica, sans-serif" font-weight="bold" textLength="275" lengthAdjust="spacingAndGlyphs" stroke="#939598" stroke-width="3" stroke-linejoin="miter">GALLEHR</text>
<text x="500.2" y="2146.8" font-size="56" fill="#939598" font-family="'Liberation Sans', Arial, Helvetica, sans-serif" font-weight="bold" textLength="275" lengthAdjust="spacingAndGlyphs" stroke="#939598" stroke-width="3" stroke-linejoin="miter">PARTNER</text>
<path d="M449.8,2107.2h13v14h13.7v12.6h-13.7v14.1h-13v-14.1h-13.7v-12.6h13.7z" fill="#B5121B"/>
<text x="781.3" y="2121" font-size="32.5" fill="#939598" font-family="'Liberation Sans', Arial, Helvetica, sans-serif" font-weight="bold" stroke="#939598" stroke-width="0.8">®</text>
<text x="1516.2" y="2139.8" font-size="41.67" fill="#8E9093" font-family="'Liberation Sans', Arial, Helvetica, sans-serif" style="font-kerning:none">GALLEHR+PARTNER<tspan font-size="29" dy="-12.3" dx="-0.9">®</tspan><tspan dy="12.3"> - Transformationsbegleitung</tspan></text>
<text x="3837" y="2141" font-size="41.67" fill="#B10F16" font-family="'Liberation Sans', Arial, Helvetica, sans-serif" font-weight="bold" >5</text>
</svg>
</body></html>
